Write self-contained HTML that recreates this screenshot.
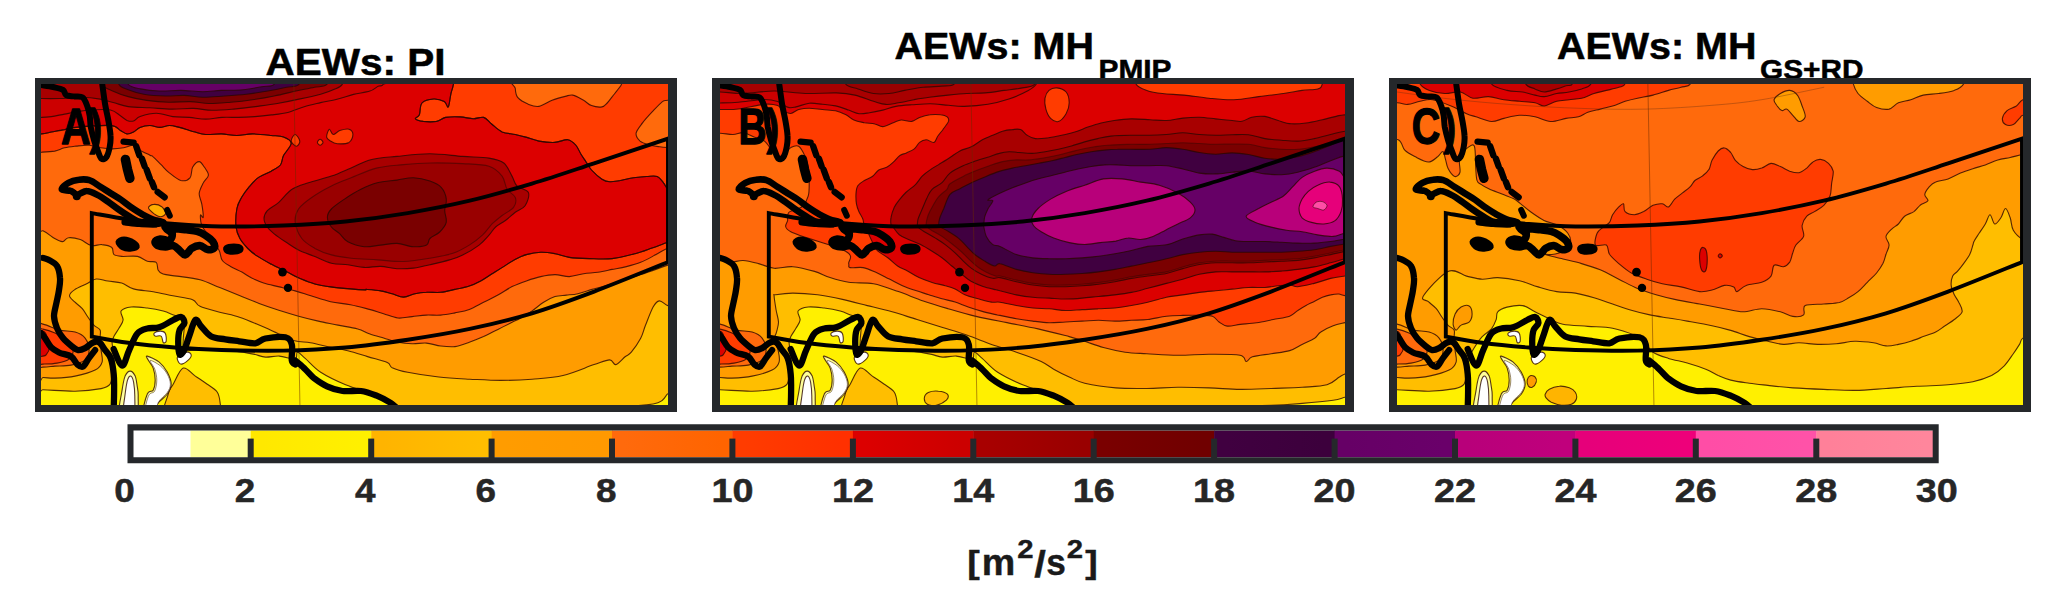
<!DOCTYPE html>
<html><head><meta charset="utf-8"><title>AEWs</title>
<style>
html,body{margin:0;padding:0;background:#fff;}
body{width:2067px;height:609px;overflow:hidden;font-family:"Liberation Sans",sans-serif;}
svg{display:block;}
text{font-family:"Liberation Sans",sans-serif;}
</style></head><body>
<svg width="2067" height="609" viewBox="0 0 2067 609">
<rect width="2067" height="609" fill="#ffffff"/>
<defs>
<clipPath id="clipA"><rect x="41" y="84" width="627" height="321"/></clipPath>
<clipPath id="clipB"><rect x="720" y="84" width="625" height="321"/></clipPath>
<clipPath id="clipC"><rect x="1397" y="84" width="626" height="321"/></clipPath>
</defs>
<text x="265.5" y="74.5" font-size="36" font-weight="bold" fill="#000" stroke="#000" stroke-width="0.5" textLength="180" lengthAdjust="spacingAndGlyphs">AEWs: PI</text>
<text x="894.5" y="59.4" font-size="36" font-weight="bold" fill="#000" stroke="#000" stroke-width="0.5" textLength="199.5" lengthAdjust="spacingAndGlyphs">AEWs: MH</text>
<text x="1098.5" y="78.6" font-size="27" font-weight="bold" fill="#000" stroke="#000" stroke-width="0.5" textLength="73" lengthAdjust="spacingAndGlyphs">PMIP</text>
<text x="1557" y="59.4" font-size="36" font-weight="bold" fill="#000" stroke="#000" stroke-width="0.5" textLength="199.5" lengthAdjust="spacingAndGlyphs">AEWs: MH</text>
<text x="1760" y="78.6" font-size="27" font-weight="bold" fill="#000" stroke="#000" stroke-width="0.5" textLength="103.5" lengthAdjust="spacingAndGlyphs">GS+RD</text>
<g clip-path="url(#clipA)">
<rect x="28" y="70" width="662" height="350" fill="#fff000"/>
<path d="M28 70C138.5 16.7 582.2 16.5 690 70C797.8 123.5 678.5 337.1 674.8 391C671.2 444.9 670.1 391.9 668 393.5C665.9 395 664.9 398.5 662.4 400.3C659.9 402.1 659.3 403 653.1 404C646.9 405 640.1 405.7 625.1 406.2C610.1 406.7 588.9 406.7 563 406.8C537.1 407 495.7 407.1 469.8 407.1C444 407.2 420.7 407.5 407.7 407.1C394.8 406.8 397.4 406.9 392.2 405C387 403 384.4 399 376.7 395.6C368.9 392.3 354.9 388.7 345.6 384.8C336.3 380.9 327.5 376.7 320.7 372.3C314 367.9 309.1 361.7 305.2 358.4C301.3 355 299.2 352 297.5 352.2C295.8 352.3 298 358.5 295 359.1C292 359.8 284.3 356.4 279.4 356.1C274.4 355.8 269.7 357.4 265.4 357.1C261 356.8 258.4 355.1 253.3 354.1C248.3 353.1 241.7 351.8 235.3 351.1C229 350.4 222 350.3 215.3 350.1C208.6 349.9 200.4 350.1 195.3 350.1C190.1 350.1 186.2 351.8 184.2 350.1C182.2 348.4 183.2 344.1 183.2 340.1C183.2 336.1 184.4 329.9 184.2 326.1C184.1 322.2 183.7 318.8 182.2 317C180.7 315.3 178.4 316.6 175.2 315.6C172.1 314.6 167.9 312.3 163.2 311C158.5 309.8 152.5 308.7 147.2 308C141.8 307.4 135.5 306.5 131.2 307C126.8 307.5 122.5 308.9 121.1 311C119.8 313.2 123.5 317.2 123.1 320C122.8 322.9 120.6 325.4 119.1 328.1C117.6 330.7 115.3 333.7 114.1 336.1C113 338.4 112.3 339.7 112.1 342.1C112 344.4 112.8 347.1 113.1 350.1C113.5 353.1 114.3 356.1 114.1 360.1C114 364.1 112.8 370.1 112.1 374.1C111.5 378.1 112 381.7 110.1 384.2C108.3 386.6 106.9 387.4 101.1 388.6C95.3 389.7 84.7 391 75.1 391.2C65.4 391.4 51 390 43 389.8C35 389.5 29.5 443.1 27 389.8C24.5 336.5 -82.5 123.3 28 70Z" fill="#ffbe00" stroke="#2a0600" stroke-width="1.1" stroke-opacity="0.8" stroke-linejoin="round"/>
<path d="M28 70C138.5 18.7 582.2 31 690 70C797.8 109 678.5 264.8 674.8 304C671.2 343.3 670.6 306.1 668 305.6C665.4 305 661.8 300.6 659.3 300.9C656.8 301.2 655.4 303 653.1 307.1C650.8 311.3 647.4 320.6 645.3 325.8C643.3 330.9 643 333.8 640.7 338.2C638.3 342.6 633.9 349.1 631.3 352.2C628.8 355.3 627.7 354.7 625.1 356.8C622.5 358.9 618.4 364.1 615.8 364.6C613.2 365.1 613.2 359.9 609.6 359.9C606 359.9 601.8 362 594.1 364.6C586.3 367.2 573.4 373 563 375.5C552.7 377.9 542.3 378.3 532 379.2C521.6 380 511.2 380.4 500.9 380.4C490.5 380.4 480.2 379.7 469.8 379.2C459.5 378.6 449.1 378.1 438.8 377C428.4 375.9 415.5 373.9 407.7 372.3C400 370.8 395.6 369.3 392.2 367.7C388.8 366 391.4 364.4 387.3 362.5C383.2 360.7 374.1 358.6 367.6 356.6C361 354.6 354.4 352.3 347.8 350.7C341.3 349 334.4 348 328.1 346.7C321.9 345.4 316 343.8 310.4 342.8C304.8 341.8 299.9 342.3 294.6 340.8C289.4 339.3 284.8 336.5 278.8 333.9C272.9 331.3 265.7 327.8 259.1 325.1C252.6 322.3 246 319.3 239.4 317.2C232.9 315 226.3 314 219.7 312.2C213.1 310.4 204.5 308.4 200 306.3C195.5 304.2 197.1 301.5 192.6 299.7C188.1 298 179.5 297.1 172.9 295.8C166.4 294.5 159.8 293 153.2 291.8C146.7 290.7 138.8 290.4 133.5 288.9C128.3 287.4 126 284.3 121.7 283C117.4 281.7 112.2 281.7 107.9 281C103.6 280.4 99.7 278.5 96.1 279C92.5 279.5 89.8 282.2 86.2 284C82.6 285.8 77.2 287.9 74.4 289.9C71.6 291.8 69.5 293.8 69.5 295.8C69.5 297.8 72.3 299.6 74.4 301.7C76.5 303.8 80 306 82.3 308.6C84.6 311.2 86.2 314.7 88.2 317.5C90.2 320.3 92.1 323.2 94.1 325.3C96.1 327.4 99.1 327.9 100.1 330.1C101.1 332.2 99.9 334.7 100.1 338.1C100.3 341.4 100.8 346.1 101.1 350.1C101.4 354.1 103.1 358.8 102.1 362.1C101.1 365.5 99.6 367.8 95.1 370.1C90.6 372.5 81.7 374.8 75.1 376.1C68.4 377.5 60.4 377.9 55 378.1C49.7 378.4 47.7 377.6 43 377.5C38.3 377.4 29.5 428.8 27 377.5C24.5 326.3 -82.5 121.3 28 70Z" fill="#ff9c00" stroke="#2a0600" stroke-width="1.1" stroke-opacity="0.8" stroke-linejoin="round"/>
<path d="M28 70C138.5 43.9 581.7 38 690 70C798.3 102 681.5 229.8 677.9 262.3C674.2 294.8 674 263.1 667.9 265.1C661.7 267.2 650 271.5 640.7 274.6C631.4 277.7 620.2 281.2 612.1 283.7C604 286.2 597.9 287.8 592.1 289.4C586.4 291.1 582.1 292.8 577.9 293.7C573.6 294.7 570.2 294.7 566.4 295.1C562.6 295.6 558.8 295.4 555 296.6C551.2 297.8 547.4 299.9 543.6 302.3C539.8 304.7 536 308.2 532.1 310.9C528.3 313.5 524 316.1 520.7 318C517.4 319.9 516 320.4 512.1 322.3C508.3 324.2 502.6 327 497.9 329.4C493.1 331.8 488.3 334.4 483.6 336.6C478.8 338.7 474 340.6 469.3 342.3C464.5 344 459.8 346 455 346.6C450.2 347.2 445.5 346.6 440.7 346C436 345.4 431.2 343.5 426.4 343.1C421.7 342.8 416.9 343.9 412.1 343.7C407.4 343.6 402.6 343.2 397.9 342.3C393.1 341.3 388.3 339.4 383.6 338C378.8 336.6 373.6 335.2 369.3 333.7C365 332.2 362.9 330.4 357.7 329C352.5 327.5 344.6 326.4 338 325.1C331.4 323.7 324.8 322.6 318.3 321.1C311.7 319.6 305.1 318 298.6 316.2C292 314.4 285.4 312.4 278.8 310.3C272.3 308.1 265.7 305.8 259.1 303.4C252.6 300.9 246 298.1 239.4 295.5C232.9 292.9 226.3 290.2 219.7 287.6C213.1 285 207.1 281.6 200 279.7C192.9 277.8 183 277 176.9 276.1C170.7 275.2 166.2 275.1 163.1 274.1C160 273.1 159.3 272.1 158.2 270.2C157 268.2 158 263.8 156.2 262.3C154.4 260.8 150.4 262.3 147.3 261.3C144.2 260.3 141.7 257.2 137.5 256.4C133.2 255.6 125.6 256.7 121.7 256.4C117.8 256.1 115.5 255.9 113.8 254.4C112.2 252.9 113.8 249.2 111.8 247.5C109.9 245.9 105.4 244.9 102 244.6C98.5 244.2 94.8 246.4 91.2 245.5C87.5 244.7 84.1 240.9 80.3 239.6C76.5 238.3 71.5 237.3 68.5 237.7C65.5 238 64.9 241.4 62.6 241.6C60.3 241.8 58 240.5 54.7 238.6C51.4 236.8 47.5 232.7 42.9 230.8C38.3 228.8 29.6 253.6 27.1 226.8C24.6 200 -82.5 96.1 28 70Z" fill="#ff6a0c" stroke="#2a0600" stroke-width="1.1" stroke-opacity="0.8" stroke-linejoin="round"/>
<path d="M28 70C138.3 56.3 581.7 40.8 690 70C798.3 99.2 681.5 215.5 677.9 245.1C674.2 274.8 671.7 246.3 667.9 248C664 249.7 659.5 252.8 655 255.1C650.5 257.5 645.5 260.4 640.7 262.3C636 264.2 631.2 265.4 626.4 266.6C621.7 267.8 616.9 268.5 612.1 269.4C607.4 270.4 602.6 271.6 597.9 272.3C593.1 273 588.3 273 583.6 273.7C578.8 274.4 574 276.4 569.3 276.6C564.5 276.7 559.8 274.6 555 274.6C550.2 274.6 545.5 275.5 540.7 276.6C536 277.6 531.2 279.2 526.4 280.9C521.7 282.5 516.9 284.2 512.1 286.6C507.4 289 502.6 292.5 497.9 295.1C493.1 297.8 488.3 299.9 483.6 302.3C478.8 304.7 474 307.7 469.3 309.4C464.5 311.2 459.8 311.9 455 312.9C450.2 313.8 445.5 314.8 440.7 315.1C436 315.5 431.2 314.9 426.4 315.1C421.7 315.4 416.9 316.1 412.1 316.6C407.4 317 402.6 318.5 397.9 318C393.1 317.5 388.3 315.1 383.6 313.7C378.8 312.3 374.8 310.9 369.3 309.4C363.7 307.9 356.7 305.9 350.3 304.7C343.8 303.4 337.1 303.2 330.6 301.7C324 300.2 316.8 297.6 310.9 295.8C305 294 300.4 292.3 295.1 290.9C289.8 289.4 284.6 288.2 279.3 286.9C274.1 285.6 268.2 284.5 263.6 283C259 281.5 255.4 279.9 251.7 278.1C248.1 276.2 245.5 274.1 241.9 272.1C238.3 270.2 233.4 268.2 230.1 266.2C226.8 264.3 224 262.9 222.2 260.3C220.4 257.7 220.7 253.4 219.2 250.5C217.8 247.5 215.5 245.5 213.3 242.6C211.2 239.6 208.4 235.7 206.4 232.7C204.5 229.8 202.5 227.8 201.5 224.9C200.5 221.9 200.2 216.3 200.5 215C200.8 213.7 202.9 219.1 203.2 217.3C203.4 215.4 202.5 208.1 201.8 204.1C201.2 200.2 199 197.1 199.2 193.6C199.4 190.1 201.6 186.2 203.2 183.1C204.7 180 208.2 177.8 208.4 175.2C208.6 172.6 206 169.6 204.5 167.3C202.9 165.1 201.2 161.6 199.2 161.6C197.2 161.6 194.2 164.6 192.6 167.3C191.1 170 192 175.7 190 177.8C188 180 184.3 181.3 180.8 180.5C177.3 179.6 172.3 175.2 169 172.6C165.7 170 163.7 167.3 161.1 164.7C158.5 162.1 155.1 158.4 153.2 156.8C151.4 155.2 152.1 156.3 149.9 155.2C147.8 154.1 142.8 151.9 140.1 150.2C137.4 148.6 136.3 145.7 133.5 145.3C130.8 144.9 127.2 147.2 123.7 147.8C120.1 148.4 116 148.9 112.2 148.9C108.3 148.9 104.5 148.4 100.7 147.8C96.9 147.2 93.3 145.6 89.2 145.3C85.1 145 80.2 145.7 76.1 146.1C71.9 146.6 68.1 147 64.6 147.8C61 148.6 58.5 150.3 54.7 151.1C50.9 151.8 45.9 152 41.6 152.2C37.2 152.4 30.7 165.9 28.4 152.2C26.2 138.5 -82.3 83.7 28 70Z" fill="#ff3c00" stroke="#2a0600" stroke-width="1.1" stroke-opacity="0.8" stroke-linejoin="round"/>
<path d="M28 70C99.4 59.3 383.4 67.8 454.3 70.1C525.2 72.4 454.1 79.8 453.5 83.8C453 87.7 451.8 89.9 450.9 93.8C450 97.6 449.4 105.6 448.3 106.9C447.2 108.2 446.7 103 444.3 101.6C441.9 100.3 437.5 98.8 433.8 99C430.1 99.2 424.4 100.3 422 103C419.6 105.6 420.5 112.2 419.4 114.8C418.3 117.4 414.8 117.6 415.4 118.7C416.1 119.8 419.8 120.9 423.3 121.4C426.8 121.8 432.7 122 436.5 121.4C440.2 120.7 441.7 118.2 445.6 117.4C449.6 116.7 455.5 116.7 460.1 116.9C464.7 117.1 469.3 118.6 473.2 118.7C477.2 118.8 480.7 116.5 483.7 117.4C486.8 118.3 488.6 121.6 491.6 124C494.7 126.4 498.2 130.1 502.1 131.9C506.1 133.6 511.3 133.6 515.3 134.5C519.2 135.4 521.8 136 525.8 137.1C529.7 138.2 534.1 140.2 538.9 141.1C543.7 141.9 549.9 142.6 554.7 142.4C559.5 142.2 564.3 139.3 567.8 139.7C571.3 140.2 573.5 142.6 575.7 145C577.9 147.4 579.2 151.3 581 154.2C582.7 157 584.5 159.5 586.2 162.1C588 164.7 588.8 167.1 591.5 170C594.1 172.8 598.9 177.2 602 179.2C605 181.1 606.8 181.6 609.9 181.8C612.9 182 616.4 181.1 620.4 180.5C624.3 179.8 629.1 178.5 633.5 177.8C637.9 177.2 642.7 176.7 646.6 176.5C650.6 176.3 654.3 175.4 657.2 176.5C660 177.6 662 181.1 663.7 183.1C665.5 185.1 665.3 187 667.7 188.4C670.1 189.7 676.5 182.5 678.2 191C679.9 199.5 679.6 230.9 677.9 239.4C676.1 248 672.1 240.9 667.9 242.3C663.6 243.7 657.6 246.1 652.1 248C646.7 249.9 641.7 252 635 253.7C628.3 255.5 619.8 257.8 612.1 258.6C604.5 259.4 596.4 258.8 589.3 258.6C582.1 258.4 575 258.2 569.3 257.4C563.6 256.6 559.8 254.6 555 253.7C550.2 252.9 545.5 252.1 540.7 252.3C536 252.4 530.7 253.4 526.4 254.6C522.1 255.8 518.8 257.4 515 259.4C511.2 261.4 507.4 264.2 503.6 266.6C499.8 269 496 271.3 492.1 273.7C488.3 276.1 484.5 278.8 480.7 280.9C476.9 282.9 473.6 284.6 469.3 286C465 287.4 459.8 288.4 455 289.4C450.2 290.5 445.5 291.8 440.7 292.3C436 292.8 430.7 292 426.4 292.3C422.1 292.5 418.8 292.9 415 293.7C411.2 294.5 407.4 297.1 403.6 297.1C399.8 297.1 396 294.8 392.1 293.7C388.3 292.7 385 291.6 380.7 290.9C376.4 290.1 369 289.6 366.4 289.4C363.8 289.3 367.7 290 365 289.9C362.4 289.8 356 289.4 350.3 288.9C344.5 288.4 336.5 287.7 330.6 286.9C324.7 286.1 320.1 285.4 314.8 284C309.5 282.5 303.6 280 299 278.1C294.4 276.1 291.8 274.4 287.2 272.1C282.6 269.8 276.4 266.9 271.5 264.3C266.5 261.6 261.6 259 257.7 256.4C253.7 253.8 250.8 251.5 247.8 248.5C244.9 245.5 241.9 242.3 239.9 238.6C238 235 236.5 231.9 236 226.8C235.5 221.8 236 213.3 236.9 208.5C237.8 203.6 239.5 201.2 241.5 197.6C243.6 194 246.5 190.1 249.3 186.7C252.2 183.3 255 180 258.6 177.4C262.3 174.8 267.4 173.2 271.1 171.2C274.7 169.1 278.3 167.6 280.4 165C282.4 162.4 281.7 159.3 283.5 155.6C285.3 152 291.2 146.3 291.2 143.2C291.2 140.1 286.8 138.3 283.5 137C280.1 135.7 276.2 136 271.1 135.5C265.9 134.9 258.1 133.9 252.4 133.9C246.7 133.9 242.1 135.5 236.9 135.5C231.7 135.5 226.5 134.1 221.4 133.9C216.2 133.8 210.2 134.8 205.8 134.5C201.4 134.2 197.7 132.7 195 132C192.2 131.4 192 131.3 189.4 130.5C186.8 129.7 182.7 128.2 179.4 127.4C176.1 126.6 172.8 125.5 169.5 125.5C166.2 125.5 163.1 127.4 159.9 127.4C156.6 127.4 153.2 125.5 149.9 125.5C146.6 125.5 142.7 126.3 140 127.4C137.2 128.5 135.6 131 133.5 132C131.3 133.1 129.1 134.2 126.9 133.9C124.8 133.6 123.2 131.9 120.4 130.5C117.7 129.1 117.9 126 110.5 125.5C103.1 125 83.7 126.7 76 127.4C68.3 128.1 68.6 128.8 64.5 129.6C60.4 130.3 55.3 131.3 51.5 132C47.6 132.8 45.8 133.5 41.5 133.9C37.2 134.3 27.9 145.2 25.7 134.5C23.4 123.9 -43.4 80.7 28 70Z" fill="#dc0000" stroke="#2a0600" stroke-width="1.1" stroke-opacity="0.8" stroke-linejoin="round"/>
<path d="M28 70C-31.4 77.7 26.2 109.5 28.4 117.4C30.7 125.3 37.7 117.5 41.6 117.4C45.4 117.3 47.6 117.1 51.4 116.6C55.3 116 60.2 114.9 64.6 114.1C68.9 113.3 73.6 112.3 77.7 111.7C81.8 111 83.7 110.3 89.2 110C94.7 109.7 105.3 109.1 110.5 110C115.7 111 117.6 114 120.4 115.8C123.1 117.5 124.8 119.5 127 120.4C129.1 121.2 131.3 121.7 133.5 121C135.7 120.4 136.3 117.9 140.1 116.6C143.9 115.3 151 113.3 156.4 113.3C161.9 113.3 167.4 115.9 172.8 116.6C178.3 117.3 183.8 117 189.3 117.4C194.7 117.8 200.2 119.1 205.7 119.1C211.2 119.1 216.6 117.7 222.1 117.4C227.6 117.1 233 117.5 238.5 117.4C244 117.3 249.5 117 254.9 116.6C260.4 116.2 265.9 115.6 271.4 114.9C276.8 114.3 282.3 113.9 287.8 112.5C293.3 111.1 298.7 108.4 304.2 106.7C309.7 105.1 315.2 103.9 320.6 102.6C326.1 101.4 331.6 100.7 337 99.3C342.5 98 348 95.8 353.5 94.4C358.9 93.1 365.8 92.5 369.9 91.1C374 89.8 375.9 87.3 378.1 86.2C380.3 85.1 381.9 87 383 84.6C384.1 82.1 443.8 73.9 384.7 71.4C325.5 69 87.4 62.3 28 70Z" fill="#cc0000" stroke="#2a0600" stroke-width="1.1" stroke-opacity="0.8" stroke-linejoin="round"/>
<path d="M326.6 137.1C326.4 135.1 328.2 129.7 329.3 129.2C330.4 128.8 331.5 134.3 333.2 134.5C335 134.7 337.2 131.4 339.8 130.5C342.4 129.7 346.8 128.6 349 129.2C351.2 129.9 352.9 132.3 352.9 134.5C352.9 136.7 351.6 140.8 349 142.4C346.4 143.9 340.2 143.9 337.2 143.7C334.1 143.5 332.3 142.2 330.6 141.1C328.8 140 326.9 139.1 326.6 137.1Z" fill="#ff3c00" stroke="#2a0600" stroke-width="1.1" stroke-opacity="0.8" stroke-linejoin="round"/>
<path d="M291.2 141.1C291 139.1 293.7 134.5 295.1 134.5C296.6 134.5 299.6 139.1 299.8 141.1C300.1 143 297.9 146.3 296.4 146.3C295 146.3 291.4 143 291.2 141.1Z" fill="#ff3c00" stroke="#2a0600" stroke-width="1.1" stroke-opacity="0.8" stroke-linejoin="round"/>
<path d="M317.4 142.4C317.4 141.4 319.2 139.2 320.1 139.2C321 139.2 323 141.4 323 142.4C323 143.4 321 145.3 320.1 145.3C319.2 145.3 317.4 143.4 317.4 142.4Z" fill="#ff3c00" stroke="#2a0600" stroke-width="1.1" stroke-opacity="0.8" stroke-linejoin="round"/>
<path d="M515.8 72.7C497.9 75.4 514.9 84.3 515.3 88.5C515.6 92.7 515.7 95.1 517.9 97.7C520.1 100.3 524.9 102.8 528.4 104.3C531.9 105.7 535 107 538.9 106.4C542.9 105.7 547.7 102 552.1 100.3C556.4 98.7 561.7 97.3 565.2 96.4C568.7 95.5 570 94.4 573.1 95.1C576.1 95.7 580.5 98.6 583.6 100.3C586.7 102.1 588.4 104.5 591.5 105.6C594.5 106.7 599.4 107.3 602 106.9C604.6 106.5 605.5 104.7 607.2 103C609 101.2 610.7 98.6 612.5 96.4C614.2 94.2 616.2 91.9 617.7 89.8C619.3 87.7 620.9 86.6 621.7 83.8C622.5 80.9 640.1 74.6 622.5 72.7C604.8 70.9 533.7 70.1 515.8 72.7Z" fill="#ff6a0c" stroke="#2a0600" stroke-width="1.1" stroke-opacity="0.8" stroke-linejoin="round"/>
<path d="M678.2 99C676.4 91 670.3 99.9 667.7 100.3C665 100.8 665 99.7 662.4 101.6C659.8 103.6 655.2 108.7 651.9 112.2C648.6 115.7 645.3 119.2 642.7 122.7C640.1 126.2 636.6 130.1 636.1 133.2C635.7 136.2 637.9 139.1 640.1 141.1C642.3 143 646 144 649.3 145C652.6 146 656.7 146.4 659.8 146.8C662.8 147.3 664.6 147.4 667.7 147.6C670.7 147.9 676.4 156.5 678.2 148.4C679.9 140.3 679.9 107 678.2 99Z" fill="#ff6a0c" stroke="#2a0600" stroke-width="1.1" stroke-opacity="0.8" stroke-linejoin="round"/>
<path d="M454.3 70.1C454.2 72.4 454.1 79.8 453.5 83.8C453 87.7 451.8 89.9 450.9 93.8C450 97.6 449.4 105.6 448.3 106.9C447.2 108.2 446.7 103 444.3 101.6C441.9 100.3 437.5 98.8 433.8 99C430.1 99.2 424.4 100.3 422 103C419.6 105.6 420.5 112.2 419.4 114.8C418.3 117.4 414.8 117.6 415.4 118.7C416.1 119.8 419.8 120.9 423.3 121.4C426.8 121.8 432.7 122 436.5 121.4C440.2 120.7 441.7 118.2 445.6 117.4C449.6 116.7 455.5 116.7 460.1 116.9C464.7 117.1 469.3 118.6 473.2 118.7C477.2 118.8 480.7 116.5 483.7 117.4C486.8 118.3 488.6 121.6 491.6 124C494.7 126.4 498.2 130.1 502.1 131.9C506.1 133.6 511.3 133.6 515.3 134.5C519.2 135.4 521.8 136 525.8 137.1C529.7 138.2 534.1 140.2 538.9 141.1C543.7 141.9 549.9 142.6 554.7 142.4C559.5 142.2 564.3 139.3 567.8 139.7C571.3 140.2 573.5 142.6 575.7 145C577.9 147.4 579.2 151.3 581 154.2C582.7 157 584.5 159.5 586.2 162.1C588 164.7 588.8 167.1 591.5 170C594.1 172.8 598.9 177.2 602 179.2C605 181.1 606.8 181.6 609.9 181.8C612.9 182 616.4 181.1 620.4 180.5C624.3 179.8 629.1 178.5 633.5 177.8C637.9 177.2 642.7 176.7 646.6 176.5C650.6 176.3 654.3 175.4 657.2 176.5C660 177.6 662 181.1 663.7 183.1C665.5 185.1 665.3 187 667.7 188.4C670.1 189.7 676.5 182.5 678.2 191C679.9 199.5 679.6 230.9 677.9 239.4C676.1 248 672.1 240.9 667.9 242.3C663.6 243.7 657.6 246.1 652.1 248C646.7 249.9 641.7 252 635 253.7C628.3 255.5 619.8 257.8 612.1 258.6C604.5 259.4 596.4 258.8 589.3 258.6C582.1 258.4 575 258.2 569.3 257.4C563.6 256.6 559.8 254.6 555 253.7C550.2 252.9 545.5 252.1 540.7 252.3C536 252.4 530.7 253.4 526.4 254.6C522.1 255.8 518.8 257.4 515 259.4C511.2 261.4 507.4 264.2 503.6 266.6C499.8 269 496 271.3 492.1 273.7C488.3 276.1 484.5 278.8 480.7 280.9C476.9 282.9 473.6 284.6 469.3 286C465 287.4 459.8 288.4 455 289.4C450.2 290.5 445.5 291.8 440.7 292.3C436 292.8 430.7 292 426.4 292.3C422.1 292.5 418.8 292.9 415 293.7C411.2 294.5 407.4 297.1 403.6 297.1C399.8 297.1 396 294.8 392.1 293.7C388.3 292.7 385 291.6 380.7 290.9C376.4 290.1 369 289.6 366.4 289.4C363.8 289.3 367.7 290 365 289.9C362.4 289.8 356 289.4 350.3 288.9C344.5 288.4 336.5 287.7 330.6 286.9C324.7 286.1 320.1 285.4 314.8 284C309.5 282.5 303.6 280 299 278.1C294.4 276.1 291.8 274.4 287.2 272.1C282.6 269.8 276.4 266.9 271.5 264.3C266.5 261.6 261.6 259 257.7 256.4C253.7 253.8 250.8 251.5 247.8 248.5C244.9 245.5 241.9 242.3 239.9 238.6C238 235 236.5 231.9 236 226.8C235.5 221.8 236 213.3 236.9 208.5C237.8 203.6 239.5 201.2 241.5 197.6C243.6 194 246.5 190.1 249.3 186.7C252.2 183.3 255 180 258.6 177.4C262.3 174.8 267.4 173.2 271.1 171.2C274.7 169.1 278.3 167.6 280.4 165C282.4 162.4 281.7 159.3 283.5 155.6C285.3 152 291.2 146.3 291.2 143.2C291.2 140.1 286.8 138.3 283.5 137C280.1 135.7 276.2 136 271.1 135.5C265.9 134.9 258.1 133.9 252.4 133.9C246.7 133.9 242.1 135.5 236.9 135.5C231.7 135.5 226.5 134.1 221.4 133.9C216.2 133.8 210.2 134.8 205.8 134.5C201.4 134.2 197.7 132.7 195 132C192.2 131.4 192 131.3 189.4 130.5C186.8 129.7 182.7 128.2 179.4 127.4C176.1 126.6 172.8 125.5 169.5 125.5C166.2 125.5 163.1 127.4 159.9 127.4C156.6 127.4 153.2 125.5 149.9 125.5C146.6 125.5 142.7 126.3 140 127.4C137.2 128.5 135.6 131 133.5 132C131.3 133.1 129.1 134.2 126.9 133.9C124.8 133.6 123.2 131.9 120.4 130.5C117.7 129.1 117.9 126 110.5 125.5C103.1 125 83.7 126.7 76 127.4C68.3 128.1 68.6 128.8 64.5 129.6C60.4 130.3 55.3 131.3 51.5 132C47.6 132.8 45.8 133.5 41.5 133.9C37.2 134.3 28.3 134.4 25.7 134.5" fill="none" stroke="#2a0600" stroke-width="1.1" stroke-opacity="0.8" stroke-linejoin="round" stroke-linecap="round"/>
<path d="M25.7 68.7C-27.4 73.4 23 92.3 25.7 97.3C28.4 102.2 36.1 98.3 41.8 98.5C47.5 98.7 53.2 98.7 59.8 98.5C66.5 98.3 74.9 97.2 81.6 97.3C88.3 97.4 94.8 98.2 100.2 99.1C105.7 100.1 109.5 101.6 114.2 102.8C118.9 104.1 122.2 105.7 128.2 106.6C134.1 107.4 142.7 107.4 149.9 107.8C157.2 108.2 164.4 109 171.7 109.1C178.9 109.2 186.7 108.2 193.4 108.4C200.1 108.6 205.3 110.2 212 110.3C218.8 110.4 226.5 109.7 233.8 109.1C241 108.4 248.3 107.5 255.5 106.6C262.8 105.6 270 104.7 277.3 103.5C284.5 102.2 291.8 100.7 299 99.1C306.3 97.6 315.1 95.7 320.7 94.2C326.4 92.6 329.6 91.5 333.2 89.8C336.8 88.1 340.7 87.4 342.5 83.9C344.3 80.4 396.8 71.2 344 68.7C291.2 66.1 78.7 63.9 25.7 68.7Z" fill="#a80000" stroke="#2a0600" stroke-width="1.1" stroke-opacity="0.8" stroke-linejoin="round"/>
<path d="M264 218.8C264 216.1 264.9 213.3 267.3 210.6C269.8 207.9 274.7 206 278.8 202.4C282.9 198.8 287 192.5 292 189.3C296.9 186 301.8 184.9 308.4 182.7C314.9 180.5 324.2 178.6 331.4 176.1C338.5 173.7 344.5 170.7 351.1 167.9C357.6 165.2 363.1 161.6 370.8 159.7C378.4 157.8 387.2 157.4 397 156.4C406.9 155.4 418.9 153.8 429.9 153.8C440.8 153.8 452.9 155.7 462.7 156.4C472.6 157.1 482.2 157 489 158.1C495.8 159.2 499.9 160 503.8 163C507.6 166 509.8 172.3 512 176.1C514.2 180 514.2 183.2 516.9 186C519.6 188.7 527 189.3 528.4 192.5C529.8 195.8 527.3 202.4 525.1 205.7C522.9 209 518.6 209.8 515.3 212.2C512 214.7 508.7 218 505.4 220.5C502.1 222.9 498.3 224.6 495.6 227C492.8 229.5 491.7 232.2 489 235.2C486.3 238.2 483.5 241.8 479.1 245.1C474.8 248.4 467.7 252.5 462.7 254.9C457.8 257.4 455.1 258.2 449.6 259.9C444.1 261.5 435.9 263.4 429.9 264.8C423.9 266.2 418.9 267.4 413.5 268.1C408 268.7 402.5 269 397 268.7C391.6 268.5 386.1 266.7 380.6 266.4C375.2 266.2 369.7 267.7 364.2 267.4C358.7 267.1 353.3 265.5 347.8 264.8C342.3 264.1 336.8 264.5 331.4 263.2C325.9 261.8 320.4 258.8 314.9 256.6C309.5 254.4 303.4 252.5 298.5 250C293.6 247.6 289.5 244.5 285.4 241.8C281.3 239.1 276.9 236.1 273.9 233.6C270.9 231.1 269 229.5 267.3 227C265.7 224.6 264 221.6 264 218.8Z" fill="#a80000" stroke="#2a0600" stroke-width="1.1" stroke-opacity="0.8" stroke-linejoin="round"/>
<path d="M295.2 222.1C294.7 217.2 295.8 213.1 298.5 209C301.3 204.9 306.2 201.3 311.7 197.5C317.1 193.6 324.8 189.3 331.4 186C337.9 182.7 343.4 180.8 351.1 177.8C358.7 174.8 368.6 170.1 377.3 167.9C386.1 165.7 394.9 165.5 403.6 164.6C412.4 163.8 420 163.2 429.9 163C439.7 162.8 452.9 163.1 462.7 163.6C472.6 164.2 482.4 164.2 489 166.3C495.6 168.4 499.1 172.3 502.1 176.1C505.1 180 504.9 185.7 507.1 189.3C509.3 192.8 514.2 194.5 515.3 197.5C516.4 200.5 515.8 204.3 513.6 207.3C511.4 210.3 505.7 212.8 502.1 215.5C498.6 218.3 495.6 220.5 492.3 223.7C489 227 486.3 231.7 482.4 235.2C478.6 238.8 474.2 242.1 469.3 245.1C464.4 248.1 459.4 251.1 452.9 253.3C446.3 255.5 438.1 256.9 429.9 258.2C421.7 259.6 412.4 261.2 403.6 261.5C394.9 261.8 386.1 260.4 377.3 259.9C368.6 259.3 358.7 259 351.1 258.2C343.4 257.4 337.4 256.6 331.4 254.9C325.3 253.3 319.9 251.1 314.9 248.4C310 245.6 305.1 242.9 301.8 238.5C298.5 234.1 295.8 227 295.2 222.1Z" fill="#990000" stroke="#2a0600" stroke-width="1.1" stroke-opacity="0.5" stroke-linejoin="round"/>
<path d="M101.8 68.7C64 71.3 100 80.5 101.8 84.2C103.6 87.9 108.2 89 112.6 91C117 93.1 122.5 95.1 128.2 96.6C133.9 98.2 140.1 99.4 146.8 100.4C153.5 101.3 161.3 102 168.6 102.2C175.8 102.4 183.6 101.4 190.3 101.6C197 101.8 202.2 103.4 208.9 103.5C215.7 103.6 223.4 102.8 230.7 102.2C237.9 101.6 245.2 100.8 252.4 99.7C259.7 98.7 266.9 97.5 274.2 96C281.4 94.6 289.2 92.5 295.9 91C302.6 89.6 309.4 88.5 314.5 87.3C319.7 86.2 324.6 87.3 327 84.2C329.3 81.1 366 71.3 328.5 68.7C291 66.1 139.6 66.1 101.8 68.7Z" fill="#7a0000" stroke="#2a0600" stroke-width="1.1" stroke-opacity="0.8" stroke-linejoin="round"/>
<path d="M327.4 217.2C327.4 214.2 328.5 212 331.4 209C334.2 206 339.6 202.4 344.5 199.1C349.4 195.8 355.4 192 360.9 189.3C366.4 186.5 371.3 184.2 377.3 182.7C383.4 181.2 391 180.9 397 180.1C403.1 179.2 408 177.6 413.5 177.8C418.9 177.9 425.2 179.4 429.9 181.1C434.5 182.7 438.6 184.6 441.4 187.6C444.1 190.6 445.8 195.3 446.3 199.1C446.9 202.9 444.7 206.8 444.7 210.6C444.7 214.4 447.1 218.5 446.3 222.1C445.5 225.7 442.5 229.2 439.7 232C437 234.7 432.1 236.3 429.9 238.5C427.7 240.7 429.3 243.7 426.6 245.1C423.9 246.5 418.4 247 413.5 246.7C408.5 246.5 402.5 243.7 397 243.4C391.6 243.2 386.1 244.5 380.6 245.1C375.2 245.6 369.7 247.3 364.2 246.7C358.7 246.2 351.9 244 347.8 241.8C343.7 239.6 342.3 236.1 339.6 233.6C336.8 231.1 333.4 229.8 331.4 227C329.3 224.3 327.4 220.2 327.4 217.2Z" fill="#7a0000" stroke="#2a0600" stroke-width="1.1" stroke-opacity="0.8" stroke-linejoin="round"/>
<path d="M118.2 68.7C88.1 71.3 117.2 80.7 118.9 84.2C120.5 87.7 124 88.1 128.2 89.8C132.3 91.5 137.5 93.1 143.7 94.2C149.9 95.2 158.7 95.8 165.5 96C172.2 96.2 177.9 95.2 184.1 95.4C190.3 95.6 196 97.2 202.7 97.3C209.5 97.4 217.2 96.5 224.5 96C231.7 95.5 239 95 246.2 94.2C253.5 93.3 261.2 92.2 267.9 91C274.7 89.9 281.4 88.5 286.6 87.3C291.8 86.2 296.8 87.3 299 84.2C301.2 81.1 329.8 71.3 299.6 68.7C269.5 66.1 148.4 66.1 118.2 68.7Z" fill="#400040" stroke="#2a0600" stroke-width="1.1" stroke-opacity="0.8" stroke-linejoin="round"/>
<path d="M127.6 68.7C103.1 71.3 126 80.8 128.2 84.2C130.4 87.6 135.4 87.7 140.6 88.9C145.8 90 152.5 90.8 159.2 91C166 91.3 173.7 90.3 181 90.4C188.2 90.5 196 91.7 202.7 91.7C209.5 91.7 214.6 90.7 221.4 90.4C228.1 90.1 236.4 90.4 243.1 89.8C249.8 89.2 256.6 87.6 261.7 86.7C266.9 85.8 272 87.2 274.2 84.2C276.3 81.2 299.2 71.3 274.8 68.7C250.3 66.1 152 66.1 127.6 68.7Z" fill="#660066" stroke="#2a0600" stroke-width="1.1" stroke-opacity="0.8" stroke-linejoin="round"/>
<path d="M27 323.1C29.7 315.9 37.7 322.9 43 324.1C48.4 325.2 53.7 328.7 59 330.1C64.4 331.4 70.7 330.7 75.1 332.1C79.4 333.4 82.7 335.1 85.1 338.1C87.4 341.1 89.1 346.4 89.1 350.1C89.1 353.8 88.1 357.6 85.1 360.1C82.1 362.6 76.1 364.1 71.1 365.1C66 366.1 59.7 365.8 55 366.1C50.4 366.5 47.7 367 43 367.1C38.3 367.3 29.7 374.5 27 367.1C24.3 359.8 24.3 330.2 27 323.1Z" fill="#ff6a0c" stroke="#2a0600" stroke-width="1.1" stroke-opacity="0.8" stroke-linejoin="round"/>
<path d="M27 328.1C29.7 322.2 38.3 328.2 43 329.1C47.7 329.9 51 331.2 55 333.1C59 334.9 64 337.2 67.1 340.1C70.1 342.9 72.7 346.9 73.1 350.1C73.4 353.3 71.7 356.9 69.1 359.1C66.4 361.3 61.4 362.3 57 363.1C52.7 364 48 364 43 364.1C38 364.3 29.7 370.1 27 364.1C24.3 358.1 24.3 333.9 27 328.1Z" fill="#ff3c00" stroke="#2a0600" stroke-width="1.1" stroke-opacity="0.8" stroke-linejoin="round"/>
<path d="M27 330.1C29.7 325.9 39.6 329.7 43 331.1C46.4 332.4 46.4 335.2 47.4 338.1C48.5 340.9 49.6 345.4 49.4 348.1C49.3 350.8 47.7 352.8 46.6 354.1C45.6 355.4 46.3 355.8 43 356.1C39.7 356.4 29.7 360.4 27 356.1C24.3 351.8 24.3 334.2 27 330.1Z" fill="#dc0000" stroke="#2a0600" stroke-width="1.1" stroke-opacity="0.8" stroke-linejoin="round"/>
<path d="M173.2 384.2C175.7 379.8 179.6 369.5 183.2 368.1C186.9 366.8 191.2 373.5 195.3 376.1C199.3 378.8 203.6 381.5 207.3 384.2C210.9 386.8 215.1 388.8 217.3 392.2C219.5 395.5 219.8 399.8 220.3 404.2C220.8 408.5 229.1 415.9 220.3 418.2C211.4 420.5 175.9 422.2 167.2 418.2C158.5 414.2 167.2 399.8 168.2 394.2C169.2 388.5 170.7 388.5 173.2 384.2Z" fill="#ffbe00" stroke="#2a0600" stroke-width="1.1" stroke-opacity="0.8" stroke-linejoin="round"/>
<path d="M119.1 418.2C116.8 413.5 121.1 397.2 122.1 390.2C123.1 383.1 123.8 379.3 125.1 376.1C126.5 373 128.5 371.1 130.2 371.1C131.8 371.1 134 373.6 135.2 376.1C136.3 378.6 136.7 382.8 137.2 386.2C137.7 389.5 138.3 390.8 138.2 396.2C138 401.5 139.3 414.5 136.2 418.2C133 421.9 121.5 422.9 119.1 418.2Z" fill="#ffff99" stroke="#2a0600" stroke-width="1.1" stroke-opacity="0.8" stroke-linejoin="round"/>
<path d="M123.1 418.2C121.7 414.2 124.4 400.5 125.1 394.2C125.9 387.8 126.6 383.1 127.5 380.1C128.5 377.1 129.8 375.8 130.8 376.1C131.8 376.5 132.9 378.8 133.6 382.1C134.2 385.5 134.8 390.2 134.8 396.2C134.8 402.2 135.5 414.5 133.6 418.2C131.6 421.9 124.5 422.2 123.1 418.2Z" fill="#ffffff" stroke="#2a0600" stroke-width="1.1" stroke-opacity="0.8" stroke-linejoin="round"/>
<path d="M147.2 356.1C149 356.4 155.9 359.4 159.2 362.1C162.5 364.8 165.2 368.5 167.2 372.1C169.2 375.8 171.2 380.5 171.2 384.2C171.2 387.8 169.5 390.8 167.2 394.2C164.9 397.5 159.5 400.2 157.2 404.2C154.9 408.2 155.7 415.9 153.2 418.2C150.7 420.5 143.2 422.2 142.2 418.2C141.2 414.2 145.3 398.8 147.2 394.2C149 389.5 151.9 392.5 153.2 390.2C154.5 387.8 155.2 383.8 155.2 380.1C155.2 376.5 154.4 371.5 153.2 368.1C152 364.8 149.2 362.1 148.2 360.1C147.2 358.1 145.3 355.8 147.2 356.1Z" fill="#ffff99" stroke="#2a0600" stroke-width="1.1" stroke-opacity="0.8" stroke-linejoin="round"/>
<path d="M150.2 360.5C151.1 359.9 157.4 363.5 160.2 365.7C163 368 165.5 371.1 167.2 374.1C168.9 377.2 170.4 381.1 170.4 384.2C170.4 387.2 169.2 389.5 167.2 392.6C165.2 395.6 160.3 398.3 158.2 402.6C156.1 406.9 157.1 415.6 154.8 418.2C152.5 420.8 145.2 421.9 144.2 418.2C143.1 414.5 146.6 400.7 148.4 396.2C150.1 391.7 153.2 393.8 154.6 391.2C156 388.5 156.8 383.8 156.8 380.1C156.8 376.5 155.9 372.4 154.8 369.1C153.7 365.9 149.3 361.1 150.2 360.5Z" fill="#ffffff" stroke="#2a0600" stroke-width="0.6" stroke-opacity="0.8" stroke-linejoin="round"/>
<path d="M178.2 356.1C179.8 354.8 185.1 352.3 187.2 352.1C189.4 351.9 191.1 353.8 191.2 355.1C191.4 356.4 189.9 358.6 188.2 360.1C186.6 361.6 183 364.1 181.2 364.1C179.5 364.1 178.1 361.4 177.6 360.1C177.1 358.8 176.6 357.4 178.2 356.1Z" fill="#ffffff" stroke="#2a0600" stroke-width="1.1" stroke-opacity="0.8" stroke-linejoin="round"/>
<path d="M154.2 333.1C155 332.2 158.4 331.1 160.2 331.1C162 331.1 164.2 331.4 165.2 333.1C166.2 334.7 166.5 339.5 166.2 341.1C165.9 342.7 164 343.3 163.2 342.5C162.4 341.6 162.5 337.1 161.2 336.1C159.9 335 156.4 336.6 155.2 336.1C154 335.6 153.4 333.9 154.2 333.1Z" fill="#ffffff" stroke="#2a0600" stroke-width="1.1" stroke-opacity="0.8" stroke-linejoin="round"/>
<path d="M148.5 207.8C148.5 206.2 151.6 204.5 153.8 204.4C156 204.2 159.7 205.2 161.7 206.7C163.6 208.3 165.8 211.9 165.6 213.6C165.4 215.2 162.3 216.7 160.4 216.7C158.4 216.7 155.8 215 153.8 213.6C151.8 212.1 148.5 209.3 148.5 207.8Z" fill="#ffae00" stroke="#2a0600" stroke-width="1.1" stroke-opacity="0.8" stroke-linejoin="round"/>
<line x1="293.8" y1="80" x2="300" y2="408" stroke="#6a2a00" stroke-width="1" stroke-opacity="0.5"/>
<path d="M91.8 213.1C97.9 214.1 114.4 217.5 128.2 219.3C142 221.1 159.2 222.8 174.8 224C190.3 225.2 203.2 226.2 221.4 226.5C239.5 226.7 262.8 226.4 283.5 225.5C304.2 224.7 324.9 223.6 345.6 221.5C366.3 219.4 387 216.6 407.7 213.1C428.4 209.6 449.1 205.6 469.8 200.7C490.5 195.8 511.2 189.8 532 183.6C552.7 177.4 571.4 170.9 594.1 163.4C616.7 155.9 655.7 142.7 668 138.6 L668 262.1 L668 262.1C655.7 267 616.7 283 594.1 291.6C571.4 300.1 552.7 307.1 532 313.3C511.2 319.5 490.5 324.5 469.8 328.9C449.1 333.3 428.4 336.6 407.7 339.7C387 342.8 366.3 345.7 345.6 347.5C324.9 349.3 304.2 350.2 283.5 350.6C262.8 351 239.5 350.5 221.4 350C203.2 349.5 190.3 348.7 174.8 347.5C159.2 346.3 142 344.7 128.2 342.8C114.4 341 97.9 337.7 91.8 336.6Z" fill="none" stroke="#000" stroke-width="3.9" stroke-linejoin="miter"/>
<path d="M39.9 84.9C42.1 85.3 49.2 86.2 53.1 87C56.9 87.9 60.7 88.5 62.9 89.8C65.1 91.2 64.3 94.1 66.2 95.2C68.1 96.3 71.7 96 74.4 96.4C77.1 96.7 80.5 95.8 82.6 97.4C84.8 99 86 102.8 87.2 105.9C88.4 109 89.1 112.2 89.7 115.8C90.3 119.3 90.1 123.2 90.8 127.3C91.6 131.4 92.9 136.3 94.1 140.4C95.3 144.5 97 148.8 98.2 151.9C99.4 155 100.1 157.9 101.5 158.8C102.9 159.7 105.1 159.1 106.4 157.1C107.8 155.2 109 150.6 109.7 147C110.4 143.4 110.8 139.9 110.5 135.5C110.3 131.1 109.3 125.9 108.4 120.7C107.5 115.5 106.1 110.3 105.1 104.3C104.1 98.3 102.8 87.9 102.3 84.6" fill="none" stroke="#000" stroke-width="6.0" stroke-linejoin="round" stroke-linecap="round"/>
<path d="M123.6 141.6 L133.6 142.6" fill="none" stroke="#000" stroke-width="6.4" stroke-linejoin="round" stroke-linecap="round"/>
<path d="M136.2 146.3 L139.3 155.2" fill="none" stroke="#000" stroke-width="6.4" stroke-linejoin="round" stroke-linecap="round"/>
<path d="M142 158.9 L144.6 166.3" fill="none" stroke="#000" stroke-width="6.4" stroke-linejoin="round" stroke-linecap="round"/>
<path d="M146.7 169.9 L149.8 178.3" fill="none" stroke="#000" stroke-width="6.4" stroke-linejoin="round" stroke-linecap="round"/>
<path d="M151.9 182 L154 187.3" fill="none" stroke="#000" stroke-width="6.4" stroke-linejoin="round" stroke-linecap="round"/>
<path d="M157.7 192 L164.6 197.3" fill="none" stroke="#000" stroke-width="6.4" stroke-linejoin="round" stroke-linecap="round"/>
<path d="M125.4 159.4C125.8 161.1 126.8 166.3 127.5 169.4C128.3 172.6 129.5 176.9 129.9 178.3" fill="none" stroke="#000" stroke-width="9.5" stroke-linejoin="round" stroke-linecap="round"/>
<path d="M167.2 209.9 L169.8 215.7" fill="none" stroke="#000" stroke-width="6" stroke-linejoin="round" stroke-linecap="round"/>
<path d="M61.8 189.4C61.4 188 65.5 184.4 68.4 182.8C71.2 181.2 75.4 180.1 78.9 179.7C82.4 179.2 85.9 179 89.4 180.2C92.9 181.3 96.4 184.3 99.9 186.5C103.4 188.6 106.9 190.9 110.4 193.1C113.9 195.2 117.4 197.2 120.9 199.6C124.4 202 127.9 205.1 131.5 207.5C135 209.9 138.5 212.1 142 214.1C145.5 216 148.9 217.9 152.5 219.3C156.1 220.7 163.4 221.7 163.5 222.5C163.6 223.3 157 224.1 153 224.1C149 224 143.4 223.3 139.3 222C135.3 220.6 132.3 218.3 128.8 216.2C125.3 214.1 121.8 211.8 118.3 209.3C114.8 206.9 111.3 203.9 107.8 201.5C104.3 199.1 100.8 196.6 97.3 194.9C93.8 193.1 90.1 191 86.8 191C83.5 190.9 80 194.6 77.3 194.6C74.7 194.6 73.6 191.8 71 191C68.4 190.1 62.3 190.7 61.8 189.4Z" fill="none" stroke="#000" stroke-width="6.6" stroke-linejoin="round" stroke-linecap="round"/>
<path d="M124.9 222C127.3 222.2 134.3 223.2 139.3 223.5C144.4 223.9 152.5 224 155.1 224.1" fill="none" stroke="#000" stroke-width="7" stroke-linejoin="round" stroke-linecap="round"/>
<ellipse cx="76.8" cy="196.2" rx="4" ry="4" fill="#000"/>
<path d="M117.5 241.9C117.8 240.3 121.3 238.5 124.1 238.5C126.9 238.5 131.8 240.5 134.1 241.9C136.4 243.3 138.2 245.7 137.8 246.9C137.3 248.2 134 249.3 131.5 249.5C128.9 249.8 124.8 249.5 122.5 248.2C120.2 247 117.3 243.5 117.5 241.9Z" fill="#000" stroke="#000" stroke-width="4" stroke-linejoin="round"/>
<path d="M165.6 226.2C167.1 226.1 172.6 228.2 176.1 228.8C179.6 229.4 183.1 229.4 186.6 229.8C190.1 230.3 194.1 230.5 197.1 231.4C200.2 232.3 202.4 233.4 205 235.1C207.6 236.8 211.4 239.5 212.9 241.7C214.4 243.9 215.1 246.9 214.2 248.2C213.3 249.5 210.1 250 207.6 249.5C205.2 249.1 202.4 245.8 199.8 245.6C197.1 245.4 194.3 246.7 191.9 248.2C189.5 249.8 187.3 254.4 185.3 254.8C183.3 255.2 182 252.4 180.1 250.9C178.1 249.3 175.9 246.3 173.5 245.6C171.1 245 168.2 246.9 165.6 246.9C163 246.9 159.5 246.5 157.7 245.6C156 244.7 154.7 242.8 155.1 241.7C155.5 240.6 157.9 239.3 160.4 239C162.8 238.8 167.6 241.2 169.5 240.4C171.5 239.5 172.6 235.6 172.2 233.8C171.7 231.9 168 230.6 166.9 229.3C165.8 228 164.1 226.3 165.6 226.2Z" fill="none" stroke="#000" stroke-width="7.6" stroke-linejoin="round"/>
<path d="M225.5 247.2C226.8 246.2 231.3 245.3 233.9 245.3C236.5 245.3 240.2 246.2 241.3 247.2C242.4 248.2 241.9 250.4 240.5 251.4C239 252.4 235 253 232.6 253C230.2 253 227.2 252.4 226 251.4C224.9 250.4 224.2 248.2 225.5 247.2Z" fill="#000" stroke="#000" stroke-width="3.5" stroke-linejoin="round"/>
<ellipse cx="282.5" cy="272.1" rx="4.4" ry="4.4" fill="#000"/>
<ellipse cx="288" cy="287.9" rx="4.2" ry="4.2" fill="#000"/>
<path d="M43 257.9C44 258.3 46.7 258.6 49 260C51.4 261.3 55.2 263 57 266C58.9 269 59.7 274 60 278C60.4 282 59.6 286 59 290C58.5 294 57.5 297.7 56.6 302C55.8 306.4 54 311.7 54 316C54.1 320.4 55.5 324.4 57 328.1C58.5 331.7 60.5 335 63 338.1C65.5 341.1 69.6 344.5 72.1 346.5C74.6 348.5 75.9 349.8 78.1 350.1C80.2 350.4 82.6 349.4 85.1 348.1C87.6 346.8 90.7 343.4 93.1 342.5C95.5 341.5 97.5 341.2 99.5 342.5C101.5 343.8 103.2 347.5 105.1 350.1C107 352.7 109.3 354.1 110.7 358.1C112.2 362.1 113.2 368.8 113.7 374.1C114.3 379.5 114.1 384.5 114.1 390.2C114.1 395.8 113.8 405.2 113.7 408.2" fill="none" stroke="#000" stroke-width="6.3" stroke-linejoin="round" stroke-linecap="round"/>
<path d="M41 333.1C41.7 333.9 43.3 335.7 45 338.1C46.7 340.4 48.7 344.7 51 347.1C53.4 349.5 55.7 350.9 59 352.5C62.4 354.1 68 354.5 71.1 356.5C74.1 358.5 75.5 362.8 77.5 364.5C79.5 366.2 81.2 367.5 83.1 366.5C84.9 365.5 86.7 361.2 88.7 358.5C90.7 355.8 94 351.5 95.1 350.1" fill="none" stroke="#000" stroke-width="6.3" stroke-linejoin="round" stroke-linecap="round"/>
<path d="M113.7 349.1C115.1 351.9 119.6 365.6 122.1 365.7C124.7 365.9 126.6 355.4 129.2 350.1C131.7 344.8 134.2 337.3 137.2 333.7C140.2 330.1 143.5 329.5 147.2 328.5C150.9 327.4 154.9 328.7 159.2 327.3C163.5 325.9 169.5 321.8 173.2 320C176.9 318.3 179.4 316.5 181.2 317C183.1 317.5 184.7 320.9 184.4 323.1C184.2 325.2 180.7 326.9 179.6 330.1C178.6 333.2 178.2 338 178.2 342.1C178.2 346.2 178.6 353.2 179.6 354.5C180.6 355.8 182.6 353.2 184.2 350.1C185.8 347 187.4 341.1 189.2 336.1C191.1 331.1 193.3 321.7 195.3 320C197.3 318.4 198.6 323.7 201.3 326.5C203.9 329.2 207.3 334.3 211.3 336.5C215.3 338.6 220.6 338.5 225.3 339.3C230 340.1 234.3 340.6 239.3 341.3C244.3 341.9 251 343.8 255.4 343.3C259.7 342.8 260.4 339.5 265.4 338.5C270.4 337.5 281 336.3 285.4 337.3C289.8 338.3 290.7 340.6 291.8 344.5C292.9 348.4 291.2 357.2 291.8 360.5C292.4 363.9 294.8 363.9 295.4 364.5" fill="none" stroke="#000" stroke-width="6.3" stroke-linejoin="round" stroke-linecap="round"/>
<path d="M295.3 360.5C296.9 362 302 366.2 305.2 369.2C308.4 372.2 310.9 375.7 314.5 378.6C318.2 381.4 322.3 384.3 327 386.3C331.6 388.4 336.8 390.2 342.5 391C348.2 391.8 355.4 390.2 361.1 391C366.8 391.8 371.7 393.7 376.7 395.6C381.6 397.6 387 400.5 390.6 402.8C394.3 405.1 397.1 408.5 398.4 409.6" fill="none" stroke="#000" stroke-width="6.3" stroke-linejoin="round" stroke-linecap="round"/>
<text x="61.0" y="143.9" font-size="50" fill="#000" font-weight="bold" stroke="#000" stroke-width="1.3" stroke-linejoin="round" textLength="29.5" lengthAdjust="spacingAndGlyphs">A</text>
<text x="89.5" y="143.9" font-size="50" fill="#000" font-weight="bold" stroke="#000" stroke-width="1.3" stroke-linejoin="round" textLength="12.5" lengthAdjust="spacingAndGlyphs">)</text>
</g>
<path fill="#25282b" fill-rule="evenodd" d="M35 78H677V412H35ZM41 84H668V405H41Z"/>
<g clip-path="url(#clipB)">
<rect x="705" y="70" width="662" height="350" fill="#fff000"/>
<path d="M705 70C815.5 16.7 1259.2 15.6 1367 70C1474.8 124.4 1355.5 342 1351.8 396.6C1348.2 451.1 1348.1 396.6 1345 397.2C1341.9 397.8 1340.3 399.3 1333.2 400.3C1326.1 401.3 1312.5 402.6 1302.1 403.4C1291.8 404.2 1286.6 404.8 1271.1 405.3C1255.5 405.8 1229.7 406.2 1209 406.5C1188.2 406.8 1167.5 407 1146.8 407.1C1126.1 407.2 1097.7 407.5 1084.7 407.1C1071.8 406.8 1074.4 406.9 1069.2 405C1064 403 1061.4 399 1053.7 395.6C1045.9 392.3 1031.9 388.7 1022.6 384.8C1013.3 380.9 1004.5 376.7 997.7 372.3C991 367.9 986.1 361.7 982.2 358.4C978.3 355 976.2 352 974.5 352.2C972.8 352.3 975 358.5 972 359.1C969 359.8 961.3 356.4 956.4 356.1C951.4 355.8 946.7 357.4 942.4 357.1C938 356.8 935.4 355.1 930.3 354.1C925.3 353.1 918.7 351.8 912.3 351.1C906 350.4 899 350.3 892.3 350.1C885.6 349.9 877.4 350.1 872.3 350.1C867.1 350.1 863.2 351.8 861.2 350.1C859.2 348.4 860.2 344.1 860.2 340.1C860.2 336.1 861.4 329.9 861.2 326.1C861.1 322.2 860.7 318.8 859.2 317C857.7 315.3 855.4 316.6 852.2 315.6C849.1 314.6 844.9 312.3 840.2 311C835.5 309.8 829.5 308.7 824.2 308C818.8 307.4 812.5 306.5 808.2 307C803.8 307.5 799.5 308.9 798.1 311C796.8 313.2 800.5 317.2 800.1 320C799.8 322.9 797.6 325.4 796.1 328.1C794.6 330.7 792.3 333.7 791.1 336.1C790 338.4 789.3 339.7 789.1 342.1C789 344.4 789.8 347.1 790.1 350.1C790.5 353.1 791.3 356.1 791.1 360.1C791 364.1 789.8 370.1 789.1 374.1C788.5 378.1 789 381.7 787.1 384.2C785.3 386.6 783.9 387.4 778.1 388.6C772.3 389.7 761.7 391 752.1 391.2C742.4 391.4 728 390 720 389.8C712 389.5 706.5 443.1 704 389.8C701.5 336.5 594.5 123.3 705 70Z" fill="#ffbe00" stroke="#2a0600" stroke-width="1.1" stroke-opacity="0.8" stroke-linejoin="round"/>
<path d="M705 70C815.5 18.7 1259.2 19.6 1367 70C1474.8 120.4 1355.5 321.7 1351.8 372.3C1348.2 423 1347.1 373.1 1345 373.9C1342.9 374.7 1342.4 375.2 1339.4 377C1336.4 378.8 1333.2 383.1 1327 384.8C1320.8 386.5 1311.5 386.6 1302.1 387.3C1292.8 387.9 1281.4 388.1 1271.1 388.5C1260.7 388.9 1250.4 389.5 1240 389.4C1229.7 389.3 1219.3 388.2 1209 387.9C1198.6 387.5 1188.2 387.2 1177.9 387.3C1167.5 387.4 1157.2 388.4 1146.8 388.5C1136.5 388.6 1126.1 388.8 1115.8 387.9C1105.4 387 1092.5 385 1084.7 383.2C1077 381.4 1074.4 379.3 1069.2 377C1064 374.7 1058.3 371.8 1053.7 369.2C1049 366.7 1047.4 364.3 1041.2 361.5C1035 358.6 1024.7 355 1016.4 352.2C1008.1 349.3 999.8 347.2 991.5 344.4C983.3 341.5 975 337.9 966.7 335.1C958.4 332.2 950.1 329.9 941.8 327.3C933.6 324.7 925.3 322.1 917 319.5C908.7 317 900.4 314.1 892.1 311.8C883.9 309.4 875.6 307.6 867.3 305.6C859 303.5 850.7 301.2 842.5 299.4C834.2 297.5 825.9 295.7 817.6 294.7C809.3 293.7 799.7 293.1 792.8 293.1C785.8 293.1 778.8 294.2 775.7 294.7C772.6 295.2 774 293.5 774.1 296C774.2 298.6 775.4 305.7 776.1 310C776.8 314.4 778.4 318.4 778.5 322.1C778.6 325.7 777.2 329.1 776.5 332.1C775.8 335.1 773.8 337.1 774.1 340.1C774.4 343.1 777.3 346.4 778.1 350.1C778.9 353.8 780.1 358.8 779.1 362.1C778.1 365.5 776.6 367.8 772.1 370.1C767.6 372.5 758.7 374.8 752.1 376.1C745.4 377.5 737.4 377.9 732 378.1C726.7 378.4 724.7 377.6 720 377.5C715.3 377.4 706.5 428.8 704 377.5C701.5 326.3 594.5 121.3 705 70Z" fill="#ff9c00" stroke="#2a0600" stroke-width="1.1" stroke-opacity="0.8" stroke-linejoin="round"/>
<path d="M705 70C816.2 38.8 1259.2 28.2 1367 70C1474.8 111.8 1355.5 279 1351.8 321.1C1348.2 363.2 1348.1 321.9 1345 322.6C1341.9 323.4 1337.2 324.2 1333.2 325.8C1329.2 327.3 1323.9 329.9 1320.8 332C1317.7 334 1317.7 336.1 1314.6 338.2C1311.5 340.2 1306.3 342.3 1302.1 344.4C1298 346.5 1294.9 349.1 1289.7 350.6C1284.5 352.2 1277.3 352.7 1271.1 353.7C1264.9 354.7 1256.6 355.5 1252.4 356.8C1248.3 358.1 1248.3 361.7 1246.2 361.5C1244.2 361.2 1246.2 356.5 1240 355.3C1233.8 354.1 1219.3 354.3 1209 354.3C1198.6 354.3 1188.2 355.4 1177.9 355.3C1167.5 355.2 1155.6 354.2 1146.8 353.7C1138 353.2 1132.3 353.2 1125.1 352.2C1117.8 351.1 1110.1 349.3 1103.4 347.5C1096.6 345.7 1090.4 343.1 1084.7 341.3C1079 339.5 1077 338.7 1069.2 336.6C1061.4 334.6 1048.5 331.2 1038.1 328.9C1027.8 326.5 1017.4 324.7 1007.1 322.6C996.7 320.6 985.8 318.8 976 316.4C966.2 314.1 956.9 311.3 948.1 308.7C939.3 306.1 931.5 303.8 923.2 300.9C914.9 298.1 906.6 294.4 898.4 291.6C890.1 288.7 881.8 285.4 873.5 283.8C865.2 282.3 855.9 283.3 848.7 282.3C841.4 281.2 835.7 279.4 830 277.6C824.3 275.8 820.7 273.2 814.5 271.4C808.3 269.6 799.5 267.3 792.8 266.7C786 266.2 779.8 268.8 774.1 268.3C768.4 267.8 763.8 264.9 758.6 263.6C753.4 262.3 747.7 260.8 743.1 260.5C738.4 260.3 734.5 262.3 730.6 262.1C726.8 261.8 725.3 259.8 720.1 259C714.9 258.2 702.1 288.9 699.6 257.4C697.1 225.9 593.8 101.2 705 70Z" fill="#ff6a0c" stroke="#2a0600" stroke-width="1.1" stroke-opacity="0.8" stroke-linejoin="round"/>
<path d="M705 70C815.9 59.6 1257.3 32.1 1367 70C1476.7 107.9 1367.1 259.7 1363.5 297.3C1359.9 334.9 1349.5 296.2 1345.4 295.7C1341.3 295.1 1341.3 294.2 1338.8 294C1336.4 293.9 1333.4 294.3 1330.6 294.9C1327.9 295.4 1325.2 296.2 1322.4 297.3C1319.7 298.4 1316.9 300.1 1314.2 301.4C1311.5 302.8 1308.7 304 1306 305.5C1303.3 307 1300.5 308.7 1297.8 310.5C1295 312.2 1293.7 314.7 1289.6 316.2C1285.5 317.7 1278.6 318.4 1273.2 319.5C1267.7 320.6 1262.2 322 1256.7 322.8C1251.3 323.6 1245.2 323.9 1240.3 324.4C1235.4 325 1230.7 326.5 1227.2 326.1C1223.6 325.6 1221.4 323.6 1219 322C1216.5 320.3 1215.7 317.3 1212.4 316.2C1209.1 315.1 1204.2 315.5 1199.3 315.4C1194.3 315.2 1188.3 315.2 1182.8 315.4C1177.4 315.5 1172.3 315.5 1166.4 316.2C1160.6 316.9 1153.6 318.8 1147.8 319.5C1141.9 320.2 1136.8 320 1131.4 320.3C1125.9 320.6 1120.4 321.1 1114.9 321.1C1109.5 321.1 1104 320.3 1098.5 320.3C1093 320.3 1087.6 320.9 1082.1 321.1C1076.6 321.4 1071.2 321.7 1065.7 322C1060.2 322.2 1054.7 322.9 1049.3 322.8C1043.8 322.6 1038.3 321.8 1032.8 321.1C1027.4 320.4 1021.9 319.6 1016.4 318.7C1010.9 317.7 1003.7 316.1 1000 315.4C996.3 314.7 997.6 315.1 994.5 314.4C991.4 313.7 985.7 312.4 981.4 311.1C977 309.9 972.6 308.5 968.2 307C963.8 305.5 959.5 303.5 955.1 302.1C950.7 300.7 946.3 300 942 298.8C937.6 297.6 933.2 296.1 928.8 294.7C924.4 293.3 920.1 292.1 915.7 290.6C911.3 289.1 906.9 287.6 902.5 285.7C898.2 283.8 893.8 281.3 889.4 279.1C885 276.9 880.7 274.5 876.3 272.5C871.9 270.6 867.5 268.4 863.1 267.6C858.8 266.8 852.4 268.3 850 267.6C847.6 267 849.4 266.4 848.7 263.6C847.9 260.9 855.2 256.5 845.6 251.2C835.9 245.9 800.5 236.9 790.8 231.7C781.2 226.5 788 223.1 787.7 219.9C787.3 216.7 787.3 214.3 788.7 212.5C790.1 210.8 793.8 210.4 796.1 209.4C798.4 208.3 800.6 208.4 802.6 206.2C804.7 204 807.1 200.1 808.2 196.2C809.3 192.4 809.2 187.9 809.2 183.1C809.2 178.3 808.8 171.7 808.2 167.3C807.5 163 806.9 160.3 805.3 156.8C803.7 153.3 801.1 147.8 798.7 146.3C796.3 144.8 793.5 146.1 790.8 147.6C788.1 149.2 785 154.7 782.4 155.8C779.8 156.9 778 156.6 775.1 154.2C772.1 151.7 768.1 143.9 764.5 141.1C761 138.2 757.5 138.5 754 137.1C750.5 135.7 747 133.1 743.5 132.7C740 132.2 737 134.4 733 134.5C729.1 134.6 725.1 133.5 719.9 133.2C714.6 132.9 704 143.2 701.5 132.7C699 122.1 594.1 80.4 705 70Z" fill="#ff3c00" stroke="#2a0600" stroke-width="1.1" stroke-opacity="0.8" stroke-linejoin="round"/>
<path d="M705 70C815.9 63.4 1257.3 36.1 1367 70C1476.7 103.9 1367.1 239.2 1363.5 273.5C1359.9 307.8 1350.9 275.2 1345.4 276C1339.9 276.8 1335.8 277.2 1330.6 278.4C1325.4 279.7 1319.7 282 1314.2 283.4C1308.7 284.7 1301.9 286.4 1297.8 286.7C1293.7 286.9 1292.9 285.1 1289.6 285C1286.3 284.9 1282.2 285.4 1278.1 285.8C1274 286.2 1269.9 287.2 1264.9 287.5C1260 287.7 1254 287.2 1248.5 287.5C1243 287.7 1237.6 288.6 1232.1 289.1C1226.6 289.7 1221.2 290.2 1215.7 290.8C1210.2 291.3 1204.7 291.7 1199.3 292.4C1193.8 293.1 1188.3 294 1182.8 294.9C1177.4 295.7 1172.3 296.1 1166.4 297.3C1160.6 298.6 1153.6 300.9 1147.8 302.2C1141.9 303.6 1136.8 304.6 1131.4 305.5C1125.9 306.5 1120.4 307.4 1114.9 308C1109.5 308.5 1104 308.5 1098.5 308.8C1093 309.1 1087.6 309.4 1082.1 309.6C1076.6 309.9 1071.2 310.6 1065.7 310.5C1060.2 310.3 1054.7 309.2 1049.3 308.8C1043.8 308.4 1038.3 308.5 1032.8 308C1027.4 307.4 1021.9 306.5 1016.4 305.5C1010.9 304.6 1004.2 302.8 1000 302.2C995.8 301.7 994.9 302.7 991.2 302.1C987.6 301.5 982.5 300 978.1 298.8C973.7 297.6 968.8 296.4 964.9 294.7C961.1 293.1 958.4 290.5 955.1 289C951.8 287.5 949.1 286.8 945.2 285.7C941.4 284.6 936.5 283.8 932.1 282.4C927.7 281 923.1 279.4 919 277.5C914.9 275.6 911 272.8 907.5 270.9C903.9 269 900.9 268.2 897.6 266C894.3 263.8 891.1 260.2 887.8 257.8C884.5 255.3 880.1 253.1 877.9 251.2C875.7 249.3 876 248.7 874.6 246.3C873.3 243.8 871.1 239.7 869.7 236.4C868.3 233.1 867.3 227.6 866.4 226.6C865.5 225.6 864.9 231.5 864.4 230.4C863.8 229.3 864 222.9 863.1 219.9C862.2 216.8 860.2 214.6 859.1 212C858 209.4 857 207.2 856.5 204.1C856 201.1 855.8 196.7 856 193.6C856.2 190.5 856.4 187.9 857.8 185.7C859.2 183.5 862 182 864.4 180.5C866.8 178.9 869.9 178.3 872.3 176.5C874.7 174.8 876.4 171.5 878.8 170C881.3 168.4 884.3 168.6 886.7 167.3C889.1 166 891.1 164 893.3 162.1C895.5 160.1 897.7 157 899.9 155.5C902.1 154 904 154 906.4 152.9C908.8 151.8 912.1 150.7 914.3 148.9C916.5 147.2 917.6 143.9 919.6 142.4C921.5 140.8 923.7 139.7 926.1 139.7C928.5 139.7 932 143 934 142.4C936 141.7 936.4 138 938 135.8C939.5 133.6 941.5 131.6 943.2 129.2C945 126.8 947.8 123.4 948.5 121.4C949.1 119.3 948.5 118 947.2 116.9C945.8 115.8 943.4 115.1 940.6 114.8C937.7 114.4 933.6 114.3 930.1 114.8C926.6 115.2 922.6 116.3 919.6 117.4C916.5 118.5 914.8 120.9 911.7 121.4C908.6 121.8 904.2 119.8 901.2 120C898.1 120.3 896.4 121.6 893.3 122.7C890.2 123.8 885.8 126.4 882.8 126.6C879.7 126.8 878 124.6 874.9 124C871.8 123.3 867.9 123.3 864.4 122.7C860.9 122 856.9 121.4 853.9 120C850.8 118.7 849.1 116.3 846 114.8C842.9 113.3 839.4 111.7 835.5 110.8C831.5 110 826.7 110 822.4 109.5C818 109.1 813.2 108.2 809.2 108.2C805.3 108.2 801.8 108.7 798.7 109.5C795.6 110.4 793.5 113.3 790.8 113.5C788.2 113.7 785.1 112.2 782.9 110.8C780.8 109.5 780.8 106.7 777.7 105.6C774.6 104.5 771.1 103.7 764.5 104.3C758 104.8 745.7 108.1 738.3 109C730.8 109.9 726 109.4 719.9 109.5C713.8 109.6 704 116.1 701.5 109.5C699 102.9 594.1 76.6 705 70Z" fill="#dc0000" stroke="#2a0600" stroke-width="1.1" stroke-opacity="0.8" stroke-linejoin="round"/>
<path d="M1039.1 70.1C1094.9 72.4 1038.5 80.3 1036.5 83.8C1034.5 87.3 1031.9 88.6 1027.3 91.1C1022.7 93.7 1015.5 96.8 1008.9 99C1002.3 101.2 995.3 103 987.9 104.3C980.4 105.5 970.8 106.2 964.2 106.4C957.7 106.6 954.2 105.8 948.5 105.3C942.8 104.9 936.2 103.8 930.1 103.7C923.9 103.7 917.4 104.4 911.7 104.8C906 105.2 900.7 105.5 895.9 106.4C891.1 107.3 887.2 109 882.8 110.1C878.4 111.1 873.6 112.1 869.6 112.7C865.7 113.3 862.6 114.2 859.1 113.7C855.6 113.3 852.6 111.4 848.6 110.1C844.7 108.7 839.9 106.8 835.5 105.9C831.1 104.9 826.7 104.7 822.4 104.3C818 103.8 813.6 102.8 809.2 103.2C804.8 103.7 799.6 106.2 796.1 106.9C792.6 107.6 791.3 108.3 788.2 107.4C785.1 106.6 781.6 103 777.7 101.6C773.7 100.3 771.1 99.5 764.5 99.5C758 99.6 745.7 101.6 738.3 102.2C730.8 102.7 726 102.8 719.9 103C713.8 103.1 704.6 108.4 701.5 103C698.4 97.5 645.2 75.6 701.5 70.1C757.8 64.6 983.3 67.8 1039.1 70.1Z" fill="#cc0000" stroke="#2a0600" stroke-width="1.1" stroke-opacity="0.8" stroke-linejoin="round"/>
<path d="M1135 68.7C1103.8 71.2 1134 80.3 1136 83.9C1137.9 87.5 1142.4 88.8 1146.8 90.4C1151.2 92 1156.2 92.8 1162.4 93.5C1168.6 94.3 1176.3 94.3 1184.1 95.1C1191.9 95.9 1200.7 97.4 1209 98.2C1217.2 99 1225.5 100 1233.8 99.7C1242.1 99.5 1250.4 97.7 1258.7 96.6C1266.9 95.6 1276.3 94.6 1283.5 93.5C1290.7 92.5 1296.4 91.2 1302.1 90.4C1307.8 89.6 1314.3 90 1317.7 88.9C1321 87.8 1321.4 87.3 1322.3 83.9C1323.3 80.5 1354.5 71.2 1323.3 68.7C1292 66.1 1166.2 66.1 1135 68.7Z" fill="#ff3c00" stroke="#2a0600" stroke-width="1.1" stroke-opacity="0.8" stroke-linejoin="round"/>
<path d="M1056.8 87.9C1059.6 88.2 1064 89.5 1066.1 92C1068.2 94.5 1069.2 99.2 1069.2 102.8C1069.2 106.5 1067.9 110.6 1066.1 113.7C1064.3 116.8 1060.9 120.7 1058.3 121.5C1055.7 122.3 1052.6 120.4 1050.6 118.4C1048.5 116.3 1046.8 112.4 1045.9 109.1C1045 105.7 1044.4 101.3 1045 98.2C1045.5 95.1 1047 92.1 1049 90.4C1051 88.7 1053.9 87.7 1056.8 87.9Z" fill="#ff3c00" stroke="#2a0600" stroke-width="1.1" stroke-opacity="0.8" stroke-linejoin="round"/>
<path d="M702.7 68.7C647 72.6 699.8 88.1 702.7 92C705.6 95.9 713.3 91.7 720.1 92C726.8 92.2 734.1 93.7 743.1 93.5C752.1 93.4 763.8 91 774.1 91C784.5 91 794.8 93.2 805.2 93.5C815.5 93.8 828 92.6 836.2 92.9C844.5 93.2 848.7 93.7 854.9 95.1C861.1 96.5 868.3 99.7 873.5 101.3C878.7 102.8 881.8 104.1 885.9 104.4C890.1 104.7 893.7 103.6 898.4 102.8C903 102.1 908.7 100.7 913.9 99.7C919.1 98.8 923.7 98 929.4 97.3C935.1 96.5 941.8 95.7 948.1 95.1C954.3 94.5 960.5 93.9 966.7 93.5C972.9 93.2 979.1 93.4 985.3 92.9C991.5 92.4 997.7 91.3 1004 90.4C1010.2 89.6 1017.4 89 1022.6 87.9C1027.8 86.9 1032.7 87.1 1035 83.9C1037.4 80.7 1092 71.2 1036.6 68.7C981.2 66.1 758.3 64.8 702.7 68.7Z" fill="#a80000" stroke="#2a0600" stroke-width="1.1" stroke-opacity="0.8" stroke-linejoin="round"/>
<path d="M844 68.7C825.6 71.2 843.2 80.5 845.6 83.9C847.9 87.3 853.3 87.3 858 88.9C862.6 90.5 868.3 92.8 873.5 93.5C878.7 94.3 883.9 94 889 93.5C894.2 93 898.9 91.5 904.6 90.4C910.3 89.4 917 88 923.2 87.3C929.4 86.6 936.7 86.6 941.8 86.1C947 85.5 951.9 86.8 954.3 83.9C956.6 81 974.2 71.2 955.8 68.7C937.4 66.1 862.4 66.1 844 68.7Z" fill="#990000" stroke="#2a0600" stroke-width="1.1" stroke-opacity="0.8" stroke-linejoin="round"/>
<path d="M1363.5 114C1360.5 90.6 1349.5 114.5 1345.4 114.8C1341.3 115.1 1342.7 114.8 1338.8 115.6C1335 116.4 1327.9 118.5 1322.4 119.7C1316.9 120.9 1311.2 122.3 1306 123C1300.8 123.7 1295.9 124.2 1291.2 123.8C1286.6 123.4 1282.5 121.8 1278.1 120.5C1273.7 119.3 1269.3 117 1264.9 116.4C1260.6 115.9 1255.6 116.4 1251.8 117.2C1248 118.1 1245.2 120.8 1242 121.3C1238.7 121.9 1236.5 120.9 1232.1 120.5C1227.7 120.1 1221.2 119.4 1215.7 118.9C1210.2 118.3 1204.7 117.4 1199.3 117.2C1193.8 117.1 1188.3 117.5 1182.8 118.1C1177.4 118.6 1171.9 120.3 1166.4 120.5C1160.9 120.8 1156 120 1150 119.7C1144 119.4 1136.6 118.7 1130.6 118.9C1124.7 119 1119.1 119.8 1114.2 120.5C1109.3 121.2 1105.4 121.9 1101.1 123C1096.7 124.1 1092.3 125.6 1087.9 127.1C1083.6 128.6 1079.2 130.7 1074.8 132C1070.4 133.4 1066 134.3 1061.7 135.3C1057.3 136.3 1052.9 137.2 1048.5 137.8C1044.1 138.3 1038.9 139 1035.4 138.6C1031.8 138.2 1029.6 136.8 1027.2 135.3C1024.7 133.8 1023.1 130.5 1020.6 129.6C1018.1 128.6 1015.4 129.3 1012.4 129.6C1009.4 129.8 1005.8 130.2 1002.5 131.2C999.3 132.2 996 133.9 992.7 135.3C989.4 136.7 986.4 137.5 982.8 139.4C979.3 141.3 975.2 144.9 971.3 146.8C967.5 148.7 963.4 149.1 959.9 150.9C956.3 152.7 953.5 155.2 950 157.5C946.5 159.8 941.9 162.6 938.7 164.6C935.4 166.6 933.2 167.6 930.5 169.6C927.7 171.5 924.7 173.7 922.2 176.1C919.8 178.6 918.4 181.6 915.7 184.3C912.9 187.1 908.6 189.9 905.8 192.5C903.1 195.1 901.2 197.5 899.3 199.9C897.3 202.4 895.7 204.4 894.3 207.3C893 210.2 891.6 214.2 891.1 217.2C890.5 220.2 890.8 223.8 891.1 225.4C891.3 227 891.3 225 892.7 226.6C894.1 228.1 896.5 232.6 899.3 234.8C902 237 905.6 238.1 909.1 239.7C912.7 241.3 916.8 242.7 920.6 244.6C924.4 246.5 928.5 249 932.1 251.2C935.7 253.4 938.7 255.3 942 257.8C945.2 260.2 948.5 263.2 951.8 266C955.1 268.7 958.4 271.6 961.7 274.2C964.9 276.8 968 279.5 971.5 281.6C975.1 283.6 978.9 285.1 983 286.5C987.1 287.9 993.3 289.1 996.1 289.8C999 290.5 996.6 289.9 1000 290.8C1003.4 291.6 1010.9 293.8 1016.4 294.9C1021.9 296 1027.4 296.8 1032.8 297.3C1038.3 297.9 1043.8 297.9 1049.3 298.1C1054.7 298.4 1060.2 299 1065.7 299C1071.2 299 1076.6 298.6 1082.1 298.1C1087.6 297.7 1093 297 1098.5 296.5C1104 296 1109.5 295.5 1114.9 294.9C1120.4 294.2 1125.9 293.5 1131.4 292.4C1136.8 291.3 1141.9 289.8 1147.8 288.3C1153.6 286.8 1160.6 284.9 1166.4 283.4C1172.3 281.9 1177.4 280.8 1182.8 279.3C1188.3 277.8 1193.8 275.6 1199.3 274.3C1204.7 273.1 1210.2 272.3 1215.7 271.9C1221.2 271.5 1226.6 271.9 1232.1 271.9C1237.6 271.9 1243 271.9 1248.5 271.9C1254 271.9 1259.5 272 1264.9 271.9C1270.4 271.7 1275.9 271.5 1281.4 271.1C1286.8 270.6 1292.3 270.1 1297.8 269.4C1303.3 268.7 1308.7 268 1314.2 266.9C1319.7 265.9 1325.4 264.2 1330.6 262.8C1335.8 261.5 1339.9 260.1 1345.4 258.7C1350.9 257.4 1360.5 278.8 1363.5 254.6C1366.5 230.5 1366.5 137.3 1363.5 114Z" fill="#a80000" stroke="#2a0600" stroke-width="1.1" stroke-opacity="0.8" stroke-linejoin="round"/>
<path d="M1363.5 130.4C1360.5 110.9 1350.9 130.5 1345.4 131.2C1339.9 131.9 1335.8 133.3 1330.6 134.5C1325.4 135.7 1319.7 137.5 1314.2 138.6C1308.7 139.7 1303.3 140.8 1297.8 141.1C1292.3 141.3 1286.8 140.6 1281.4 140.2C1275.9 139.8 1270.4 139.5 1264.9 138.6C1259.5 137.7 1254 135.4 1248.5 134.8C1243 134.2 1237.6 134.7 1232.1 134.8C1226.6 134.9 1221.2 135.4 1215.7 135.3C1210.2 135.2 1204.7 134.9 1199.3 134.5C1193.8 134.1 1188.3 132.8 1182.8 132.8C1177.4 132.8 1171.9 134.1 1166.4 134.5C1160.9 134.9 1156 135.2 1150 135.3C1144 135.4 1137.1 135.2 1130.6 135.3C1124.1 135.4 1116.4 135.6 1110.9 136.1C1105.4 136.7 1102.2 137.6 1097.8 138.6C1093.4 139.5 1089 140.6 1084.6 141.9C1080.3 143.1 1075.9 144.7 1071.5 146C1067.1 147.2 1062.8 148.3 1058.4 149.3C1054 150.2 1049.6 151 1045.2 151.7C1040.9 152.4 1036.5 153.2 1032.1 153.4C1027.7 153.5 1022.8 152.8 1019 152.5C1015.1 152.3 1012.4 151.6 1009.1 151.7C1005.8 151.9 1002.5 152.5 999.3 153.4C996 154.2 993.2 155.4 989.4 156.7C985.6 157.9 980.7 159.3 976.3 160.8C971.9 162.3 967.5 163.6 963.1 165.7C958.8 167.7 953.5 170.2 950 173.1C946.5 175.9 944.9 180 942 182.7C939 185.4 934.6 186.8 932.1 189.3C929.6 191.7 928.8 194.2 927.2 197.5C925.5 200.8 923.8 205.4 922.2 209C920.7 212.5 919 216.1 918.1 218.8C917.3 221.6 917.5 224.1 917.3 225.4C917.2 226.7 916.2 225.6 917.3 226.6C918.4 227.6 920.9 229.6 923.9 231.5C926.9 233.4 931.8 235.9 935.4 238.1C938.9 240.3 942 242.2 945.2 244.6C948.5 247.1 952.1 250.1 955.1 252.8C958.1 255.6 960.6 258.5 963.3 261.1C966 263.7 968.5 266.3 971.5 268.4C974.5 270.6 977.8 272.5 981.4 274.2C984.9 275.8 989.8 277.7 992.9 278.3C996 278.9 996.1 277 1000 277.6C1003.9 278.2 1010.9 280.5 1016.4 281.7C1021.9 283 1027.4 284.2 1032.8 285C1038.3 285.8 1043.8 286.4 1049.3 286.7C1054.7 286.9 1060.2 286.8 1065.7 286.7C1071.2 286.5 1076.6 286.2 1082.1 285.8C1087.6 285.4 1093 284.9 1098.5 284.2C1104 283.5 1109.5 282.7 1114.9 281.7C1120.4 280.8 1125.9 279.4 1131.4 278.4C1136.8 277.5 1141.9 276.8 1147.8 276C1153.6 275.2 1160.6 274.7 1166.4 273.5C1172.3 272.3 1177.4 270.1 1182.8 268.6C1188.3 267.1 1193.8 265.4 1199.3 264.5C1204.7 263.5 1210.2 263.1 1215.7 262.8C1221.2 262.6 1226.6 262.8 1232.1 262.8C1237.6 262.8 1243 263 1248.5 262.8C1254 262.7 1259.5 262.3 1264.9 262C1270.4 261.7 1275.9 261.5 1281.4 261.2C1286.8 260.9 1292.3 260.9 1297.8 260.4C1303.3 259.8 1308.7 258.9 1314.2 257.9C1319.7 257 1325.4 255.7 1330.6 254.6C1335.8 253.5 1339.9 252.4 1345.4 251.3C1350.9 250.3 1360.5 268.2 1363.5 248.1C1366.5 227.9 1366.5 149.9 1363.5 130.4Z" fill="#960000" stroke="#2a0600" stroke-width="1.1" stroke-opacity="0.8" stroke-linejoin="round"/>
<path d="M1363.5 137.8C1360.5 119.8 1350.9 137.8 1345.4 138.6C1339.9 139.4 1335.8 141.3 1330.6 142.7C1325.4 144.1 1319.7 145.7 1314.2 146.8C1308.7 147.9 1303.3 148.9 1297.8 149.3C1292.3 149.7 1286.8 149.5 1281.4 149.3C1275.9 149 1270.4 148.4 1264.9 147.6C1259.5 146.8 1254 144.9 1248.5 144.3C1243 143.7 1237.6 144 1232.1 144C1226.6 144 1221.2 144.4 1215.7 144.3C1210.2 144.3 1204.7 143.8 1199.3 143.5C1193.8 143.2 1188.3 142.7 1182.8 142.7C1177.4 142.7 1171.9 143.2 1166.4 143.5C1160.9 143.8 1156 144.2 1150 144.3C1144 144.5 1137.7 144.2 1130.6 144.3C1123.6 144.5 1113.7 144.7 1107.6 145.2C1101.6 145.6 1098.9 146.1 1094.5 146.8C1090.1 147.5 1085.7 148.3 1081.4 149.3C1077 150.2 1072.6 151.5 1068.2 152.5C1063.8 153.6 1059.5 154.9 1055.1 155.8C1050.7 156.8 1046.3 157.6 1042 158.3C1037.6 159 1033.2 159.7 1028.8 159.9C1024.4 160.2 1020.1 159.7 1015.7 159.9C1011.3 160.2 1006.9 160.6 1002.5 161.6C998.2 162.5 993.8 164.2 989.4 165.7C985 167.2 980.7 168.8 976.3 170.6C971.9 172.4 967.5 174.2 963.1 176.4C958.8 178.5 952.7 181.6 950 183.7C947.3 185.9 948.8 187.1 946.9 189.3C945 191.4 941 193.9 938.7 196.7C936.3 199.4 934.7 202.5 932.9 205.7C931.1 208.8 929.2 212.2 928 215.5C926.8 218.8 926.1 223.5 925.9 225.4C925.6 227.2 925.3 225.7 926.4 226.6C927.4 227.4 929.5 229 932.1 230.7C934.7 232.3 938.7 234.2 942 236.4C945.2 238.6 948.5 241.2 951.8 243.8C955.1 246.4 958.6 249.3 961.7 252C964.7 254.8 967.1 257.7 969.9 260.2C972.6 262.8 975.3 265.3 978.1 267.3C980.8 269.3 983.3 270.7 986.3 272.2C989.3 273.7 993.9 275.5 996.1 276.2C998.4 276.8 996.6 275.4 1000 276C1003.4 276.7 1010.9 278.9 1016.4 280.1C1021.9 281.4 1027.4 282.6 1032.8 283.4C1038.3 284.2 1043.8 284.8 1049.3 285.1C1054.7 285.3 1060.2 285.2 1065.7 285.1C1071.2 284.9 1076.6 284.6 1082.1 284.2C1087.6 283.8 1093 283.3 1098.5 282.6C1104 281.9 1109.5 281.1 1114.9 280.1C1120.4 279.2 1125.9 277.8 1131.4 276.8C1136.8 275.9 1141.9 275.2 1147.8 274.4C1153.6 273.6 1160.6 273.1 1166.4 271.9C1172.3 270.7 1177.4 268.5 1182.8 267C1188.3 265.5 1193.8 263.8 1199.3 262.9C1204.7 261.9 1210.2 261.5 1215.7 261.2C1221.2 261 1226.6 261.2 1232.1 261.2C1237.6 261.2 1243 261.4 1248.5 261.2C1254 261.1 1259.5 260.7 1264.9 260.4C1270.4 260.1 1275.9 259.9 1281.4 259.6C1286.8 259.3 1292.3 259.3 1297.8 258.8C1303.3 258.2 1308.7 257.3 1314.2 256.3C1319.7 255.4 1325.4 254.1 1330.6 253C1335.8 251.9 1339.9 250.8 1345.4 249.7C1350.9 248.7 1360.5 265.1 1363.5 246.5C1366.5 227.8 1366.5 155.7 1363.5 137.8Z" fill="#7a0000" stroke="#2a0600" stroke-width="1.1" stroke-opacity="0.45" stroke-linejoin="round"/>
<path d="M1363.5 138.6C1360.5 121.6 1350.9 138.3 1345.4 139.4C1339.9 140.5 1335.8 143.1 1330.6 145.2C1325.4 147.2 1319.7 149.8 1314.2 151.7C1308.7 153.6 1303.3 155.4 1297.8 156.7C1292.3 157.9 1286.8 158.8 1281.4 159.1C1275.9 159.4 1270.4 159.1 1264.9 158.3C1259.5 157.5 1254 155.4 1248.5 154.5C1243 153.6 1237.6 152.9 1232.1 152.9C1226.6 152.8 1221.2 154.2 1215.7 154.2C1210.2 154.1 1204.7 153.4 1199.3 152.5C1193.8 151.7 1188.3 150.1 1182.8 149.3C1177.4 148.4 1171.9 147.6 1166.4 147.6C1160.9 147.6 1156 149 1150 149.3C1144 149.5 1136 149.3 1130.6 149.3C1125.2 149.3 1121.9 149.1 1117.5 149.3C1113.1 149.4 1108.7 149.7 1104.4 150.1C1100 150.5 1095.6 151 1091.2 151.7C1086.8 152.4 1082.5 153.2 1078.1 154.2C1073.7 155.1 1069.3 156.4 1064.9 157.5C1060.6 158.6 1056.2 159.8 1051.8 160.8C1047.4 161.7 1043 162.4 1038.7 163.2C1034.3 164 1029.9 164.9 1025.5 165.7C1021.2 166.5 1016.8 167.2 1012.4 168.1C1008 169.1 1003.6 170.1 999.3 171.4C994.9 172.8 990.5 174.6 986.1 176.4C981.7 178.1 977.4 180 973 182.1C968.6 184.2 963.7 186.6 959.9 188.7C956 190.7 952.7 191 950 194.4C947.3 197.8 945.3 204.9 943.6 209C941.8 213 940.3 216.1 939.5 218.8C938.7 221.6 938.7 224.1 938.7 225.4C938.7 226.7 937.8 225.6 939.5 226.6C941.1 227.6 945.4 229.6 948.5 231.5C951.7 233.4 955.4 235.6 958.4 238.1C961.4 240.5 963.8 243.5 966.6 246.3C969.3 249 971.8 252 974.8 254.5C977.8 256.9 981.4 259.1 984.6 261.1C987.9 263 991.9 265.5 994.5 266C997.1 266.4 996.3 263.1 1000 263.7C1003.7 264.2 1010.9 267.9 1016.4 269.4C1021.9 270.9 1027.4 271.9 1032.8 272.7C1038.3 273.5 1043.8 274.1 1049.3 274.3C1054.7 274.6 1060.2 274.5 1065.7 274.3C1071.2 274.2 1076.6 273.9 1082.1 273.5C1087.6 273.1 1093 272.6 1098.5 271.9C1104 271.2 1109.5 270.4 1114.9 269.4C1120.4 268.5 1125.9 267.2 1131.4 266.1C1136.8 265 1141.9 264.1 1147.8 262.8C1153.6 261.6 1160.6 260.1 1166.4 258.7C1172.3 257.4 1177.4 255.7 1182.8 254.6C1188.3 253.5 1193.8 252.7 1199.3 252.2C1204.7 251.6 1210.2 251.3 1215.7 251.3C1221.2 251.3 1226.6 252 1232.1 252.2C1237.6 252.3 1243 252.2 1248.5 252.2C1254 252.2 1259.5 252.2 1264.9 252.2C1270.4 252.2 1275.9 252.3 1281.4 252.2C1286.8 252 1292.3 251.8 1297.8 251.3C1303.3 250.9 1308.7 250.5 1314.2 249.7C1319.7 248.9 1325.4 247.4 1330.6 246.4C1335.8 245.5 1339.9 244.8 1345.4 244C1350.9 243.1 1360.5 259.1 1363.5 241.5C1366.5 223.9 1366.5 155.6 1363.5 138.6Z" fill="#400040" stroke="#2a0600" stroke-width="1.1" stroke-opacity="0.8" stroke-linejoin="round"/>
<path d="M1363.5 155C1360.5 141.6 1350.9 154.9 1345.4 155.8C1339.9 156.8 1335.8 158.8 1330.6 160.8C1325.4 162.7 1319.7 165.4 1314.2 167.3C1308.7 169.2 1303.3 171 1297.8 172.2C1292.3 173.5 1286.8 174.4 1281.4 174.7C1275.9 175 1270.4 174.5 1264.9 173.9C1259.5 173.3 1254 171.2 1248.5 170.9C1243 170.7 1237.6 171.8 1232.1 172.2C1226.6 172.7 1221.2 173.8 1215.7 173.9C1210.2 174 1204.7 173.9 1199.3 173.1C1193.8 172.2 1188.3 170.2 1182.8 169C1177.4 167.7 1171.9 166.2 1166.4 165.7C1160.9 165.1 1156 165.7 1150 165.7C1144 165.7 1136 165.8 1130.6 165.7C1125.2 165.5 1121.9 165 1117.5 164.9C1113.1 164.7 1108.7 164.6 1104.4 164.9C1100 165.1 1095.6 165.8 1091.2 166.5C1086.8 167.2 1082.5 168 1078.1 169C1073.7 169.9 1069.3 171.2 1064.9 172.2C1060.6 173.3 1056.2 174.4 1051.8 175.5C1047.4 176.6 1043 177.6 1038.7 178.8C1034.3 180 1029.9 181.4 1025.5 182.9C1021.2 184.4 1016.8 186.1 1012.4 187.8C1008 189.6 1003.4 191.6 999.3 193.6C995.2 195.6 988.8 198.8 987.8 200C986.7 201.2 992.8 199.3 992.9 200.8C992.9 202.2 989.3 206.2 987.9 209C986.6 211.7 985.3 214.4 984.6 217.2C984 219.9 984 223.8 983.8 225.4C983.7 227 983.4 224.7 983.8 226.6C984.2 228.4 984.8 233.4 986.3 236.4C987.8 239.4 990.6 243 992.9 244.6C995.1 246.3 996.1 244.8 1000 246.4C1003.9 248.1 1010.9 252.7 1016.4 254.6C1021.9 256.5 1027.4 257.2 1032.8 257.9C1038.3 258.6 1043.8 258.6 1049.3 258.7C1054.7 258.9 1060.2 258.9 1065.7 258.7C1071.2 258.6 1076.6 258.3 1082.1 257.9C1087.6 257.5 1093 257 1098.5 256.3C1104 255.6 1109.5 254.8 1114.9 253.8C1120.4 252.9 1125.9 251.8 1131.4 250.5C1136.8 249.3 1141.9 247.4 1147.8 246.4C1153.6 245.5 1160.6 246 1166.4 244.8C1172.3 243.5 1177.4 240.7 1182.8 239C1188.3 237.4 1194.3 235.7 1199.3 234.9C1204.2 234.1 1208.3 233.7 1212.4 234.1C1216.5 234.5 1220.1 236.3 1223.9 237.4C1227.7 238.5 1231.3 240 1235.4 240.7C1239.5 241.4 1243.6 241.4 1248.5 241.5C1253.4 241.6 1259.5 241.4 1264.9 241.5C1270.4 241.6 1275.9 242 1281.4 242.3C1286.8 242.6 1292.3 243 1297.8 243.1C1303.3 243.3 1308.7 243.4 1314.2 243.1C1319.7 242.9 1325.4 242.2 1330.6 241.5C1335.8 240.8 1339.9 239.9 1345.4 239C1350.9 238.2 1360.5 250.6 1363.5 236.6C1366.5 222.6 1366.5 168.5 1363.5 155Z" fill="#660066" stroke="#2a0600" stroke-width="1.1" stroke-opacity="0.8" stroke-linejoin="round"/>
<path d="M1031.9 217.8C1032.7 214.9 1035 211.6 1038.1 208.5C1041.2 205.3 1045.9 202 1050.6 199.1C1055.2 196.3 1060.4 193.7 1066.1 191.4C1071.8 189 1078.5 187.2 1084.7 185.2C1090.9 183.1 1097.1 180 1103.4 178.9C1109.6 177.9 1115.8 178.4 1122 178.9C1128.2 179.5 1134.4 181 1140.6 182.1C1146.8 183.1 1153 183.3 1159.3 185.2C1165.5 187 1172.7 190.1 1177.9 192.9C1183.1 195.8 1187.5 199.4 1190.3 202.2C1193.2 205.1 1195 207.4 1195 210C1195 212.6 1193.2 215.4 1190.3 217.8C1187.5 220.1 1182 221.9 1177.9 224C1173.8 226.1 1169.6 228.1 1165.5 230.2C1161.3 232.3 1157.2 234.9 1153 236.4C1148.9 238 1144.8 239.3 1140.6 239.5C1136.5 239.8 1132.3 237.7 1128.2 238C1124.1 238.2 1120.4 240.3 1115.8 241.1C1111.1 241.8 1105.4 242 1100.2 242.6C1095.1 243.2 1089.9 244.5 1084.7 244.5C1079.5 244.5 1074.4 243.7 1069.2 242.6C1064 241.5 1058.3 239.8 1053.7 238C1049 236.1 1044.6 233.8 1041.2 231.7C1037.9 229.7 1035 227.9 1033.5 225.5C1031.9 223.2 1031.1 220.6 1031.9 217.8Z" fill="#b8007a" stroke="#2a0600" stroke-width="1.1" stroke-opacity="0.8" stroke-linejoin="round"/>
<path d="M1246.2 216.2C1246.7 213.9 1254.5 210.8 1258.7 208.5C1262.8 206.1 1266.9 204.3 1271.1 202.2C1275.2 200.2 1279.9 198.6 1283.5 196C1287.1 193.4 1289.7 189.8 1292.8 186.7C1295.9 183.6 1298.5 180 1302.1 177.4C1305.8 174.8 1310.4 172.7 1314.6 171.2C1318.7 169.6 1322.8 168.1 1327 168.1C1331.1 168.1 1336.4 169.6 1339.4 171.2C1342.4 172.7 1341.9 175.8 1345 177.4C1348.1 178.9 1355.9 171.2 1358 180.5C1360.2 189.8 1360.2 224.5 1358 233.3C1355.9 242.1 1349.1 232.8 1345 233.3C1340.9 233.8 1337.8 236.1 1333.2 236.4C1328.6 236.7 1322.8 235.6 1317.7 234.9C1312.5 234.1 1307.3 232.5 1302.1 231.7C1297 231 1291.8 231 1286.6 230.2C1281.4 229.4 1276.3 228.4 1271.1 227.1C1265.9 225.8 1259.7 224.2 1255.5 222.4C1251.4 220.6 1245.7 218.5 1246.2 216.2Z" fill="#b8007a" stroke="#2a0600" stroke-width="1.1" stroke-opacity="0.8" stroke-linejoin="round"/>
<path d="M1299 208.5C1299 205.3 1300.6 202 1302.1 199.1C1303.7 196.3 1305.8 193.7 1308.3 191.4C1310.9 189 1314 186.7 1317.7 185.2C1321.3 183.6 1326.5 181.8 1330.1 182.1C1333.7 182.3 1337.3 183.9 1339.4 186.7C1341.5 189.6 1342.3 195 1342.5 199.1C1342.8 203.3 1342.3 207.9 1341 211.6C1339.7 215.2 1337.6 218.8 1334.7 220.9C1331.9 222.9 1327.8 223.7 1323.9 224C1320 224.2 1315.1 223.5 1311.5 222.4C1307.8 221.4 1304.2 220.1 1302.1 217.8C1300.1 215.4 1299 211.6 1299 208.5Z" fill="#e6007a" stroke="#2a0600" stroke-width="1.1" stroke-opacity="0.8" stroke-linejoin="round"/>
<path d="M1313 206.9C1312.7 205.9 1314.6 203.1 1316.1 202.2C1317.7 201.4 1320.5 201.1 1322.3 201.6C1324.1 202.1 1326.7 203.9 1327 205.3C1327.2 206.7 1325.4 209.5 1323.9 210C1322.3 210.5 1319.5 209 1317.7 208.5C1315.9 207.9 1313.3 207.9 1313 206.9Z" fill="#ff4da6" stroke="#2a0600" stroke-width="0.7" stroke-opacity="0.8" stroke-linejoin="round"/>
<path d="M924.3 398.2C924.5 396.2 926 393.7 928.3 392.6C930.7 391.4 935.2 390.9 938.4 391.2C941.5 391.4 946 392.7 947.4 394.2C948.7 395.7 948.2 398.3 946.4 400.2C944.5 402 939.5 404.5 936.4 405.2C933.2 405.9 929.3 405.4 927.3 404.2C925.3 403 924.2 400.1 924.3 398.2Z" fill="#ffbe00" stroke="#2a0600" stroke-width="1.1" stroke-opacity="0.8" stroke-linejoin="round"/>
<path d="M704 323.1C706.7 315.9 714.7 322.9 720 324.1C725.4 325.2 730.7 328.7 736 330.1C741.4 331.4 747.7 330.7 752.1 332.1C756.4 333.4 759.7 335.1 762.1 338.1C764.4 341.1 766.1 346.4 766.1 350.1C766.1 353.8 765.1 357.6 762.1 360.1C759.1 362.6 753.1 364.1 748.1 365.1C743 366.1 736.7 365.8 732 366.1C727.4 366.5 724.7 367 720 367.1C715.3 367.3 706.7 374.5 704 367.1C701.3 359.8 701.3 330.2 704 323.1Z" fill="#ff6a0c" stroke="#2a0600" stroke-width="1.1" stroke-opacity="0.8" stroke-linejoin="round"/>
<path d="M704 328.1C706.7 322.2 715.3 328.2 720 329.1C724.7 329.9 728 331.2 732 333.1C736 334.9 741 337.2 744.1 340.1C747.1 342.9 749.7 346.9 750.1 350.1C750.4 353.3 748.7 356.9 746.1 359.1C743.4 361.3 738.4 362.3 734 363.1C729.7 364 725 364 720 364.1C715 364.3 706.7 370.1 704 364.1C701.3 358.1 701.3 333.9 704 328.1Z" fill="#ff3c00" stroke="#2a0600" stroke-width="1.1" stroke-opacity="0.8" stroke-linejoin="round"/>
<path d="M704 330.1C706.7 325.9 716.6 329.7 720 331.1C723.4 332.4 723.4 335.2 724.4 338.1C725.5 340.9 726.6 345.4 726.4 348.1C726.3 350.8 724.7 352.8 723.6 354.1C722.6 355.4 723.3 355.8 720 356.1C716.7 356.4 706.7 360.4 704 356.1C701.3 351.8 701.3 334.2 704 330.1Z" fill="#dc0000" stroke="#2a0600" stroke-width="1.1" stroke-opacity="0.8" stroke-linejoin="round"/>
<path d="M850.2 384.2C852.7 379.8 856.6 369.5 860.2 368.1C863.9 366.8 868.2 373.5 872.3 376.1C876.3 378.8 880.6 381.5 884.3 384.2C887.9 386.8 892.1 388.8 894.3 392.2C896.5 395.5 896.8 399.8 897.3 404.2C897.8 408.5 906.1 415.9 897.3 418.2C888.4 420.5 852.9 422.2 844.2 418.2C835.5 414.2 844.2 399.8 845.2 394.2C846.2 388.5 847.7 388.5 850.2 384.2Z" fill="#ffbe00" stroke="#2a0600" stroke-width="1.1" stroke-opacity="0.8" stroke-linejoin="round"/>
<path d="M796.1 418.2C793.8 413.5 798.1 397.2 799.1 390.2C800.1 383.1 800.8 379.3 802.1 376.1C803.5 373 805.5 371.1 807.2 371.1C808.8 371.1 811 373.6 812.2 376.1C813.3 378.6 813.7 382.8 814.2 386.2C814.7 389.5 815.3 390.8 815.2 396.2C815 401.5 816.3 414.5 813.2 418.2C810 421.9 798.5 422.9 796.1 418.2Z" fill="#ffff99" stroke="#2a0600" stroke-width="1.1" stroke-opacity="0.8" stroke-linejoin="round"/>
<path d="M800.1 418.2C798.7 414.2 801.4 400.5 802.1 394.2C802.9 387.8 803.6 383.1 804.5 380.1C805.5 377.1 806.8 375.8 807.8 376.1C808.8 376.5 809.9 378.8 810.6 382.1C811.2 385.5 811.8 390.2 811.8 396.2C811.8 402.2 812.5 414.5 810.6 418.2C808.6 421.9 801.5 422.2 800.1 418.2Z" fill="#ffffff" stroke="#2a0600" stroke-width="1.1" stroke-opacity="0.8" stroke-linejoin="round"/>
<path d="M824.2 356.1C826 356.4 832.9 359.4 836.2 362.1C839.5 364.8 842.2 368.5 844.2 372.1C846.2 375.8 848.2 380.5 848.2 384.2C848.2 387.8 846.5 390.8 844.2 394.2C841.9 397.5 836.5 400.2 834.2 404.2C831.9 408.2 832.7 415.9 830.2 418.2C827.7 420.5 820.2 422.2 819.2 418.2C818.2 414.2 822.3 398.8 824.2 394.2C826 389.5 828.9 392.5 830.2 390.2C831.5 387.8 832.2 383.8 832.2 380.1C832.2 376.5 831.4 371.5 830.2 368.1C829 364.8 826.2 362.1 825.2 360.1C824.2 358.1 822.3 355.8 824.2 356.1Z" fill="#ffff99" stroke="#2a0600" stroke-width="1.1" stroke-opacity="0.8" stroke-linejoin="round"/>
<path d="M827.2 360.5C828.1 359.9 834.4 363.5 837.2 365.7C840 368 842.5 371.1 844.2 374.1C845.9 377.2 847.4 381.1 847.4 384.2C847.4 387.2 846.2 389.5 844.2 392.6C842.2 395.6 837.3 398.3 835.2 402.6C833.1 406.9 834.1 415.6 831.8 418.2C829.5 420.8 822.2 421.9 821.2 418.2C820.1 414.5 823.6 400.7 825.4 396.2C827.1 391.7 830.2 393.8 831.6 391.2C833 388.5 833.8 383.8 833.8 380.1C833.8 376.5 832.9 372.4 831.8 369.1C830.7 365.9 826.3 361.1 827.2 360.5Z" fill="#ffffff" stroke="#2a0600" stroke-width="0.6" stroke-opacity="0.8" stroke-linejoin="round"/>
<path d="M855.2 356.1C856.8 354.8 862.1 352.3 864.2 352.1C866.4 351.9 868.1 353.8 868.2 355.1C868.4 356.4 866.9 358.6 865.2 360.1C863.6 361.6 860 364.1 858.2 364.1C856.5 364.1 855.1 361.4 854.6 360.1C854.1 358.8 853.6 357.4 855.2 356.1Z" fill="#ffffff" stroke="#2a0600" stroke-width="1.1" stroke-opacity="0.8" stroke-linejoin="round"/>
<path d="M831.2 333.1C832 332.2 835.4 331.1 837.2 331.1C839 331.1 841.2 331.4 842.2 333.1C843.2 334.7 843.5 339.5 843.2 341.1C842.9 342.7 841 343.3 840.2 342.5C839.4 341.6 839.5 337.1 838.2 336.1C836.9 335 833.4 336.6 832.2 336.1C831 335.6 830.4 333.9 831.2 333.1Z" fill="#ffffff" stroke="#2a0600" stroke-width="1.1" stroke-opacity="0.8" stroke-linejoin="round"/>
<line x1="970.8" y1="80" x2="977" y2="408" stroke="#6a2a00" stroke-width="1" stroke-opacity="0.5"/>
<path d="M768.8 213.1C774.9 214.1 791.4 217.5 805.2 219.3C819 221.1 836.2 222.8 851.8 224C867.3 225.2 880.2 226.2 898.4 226.5C916.5 226.7 939.8 226.4 960.5 225.5C981.2 224.7 1001.9 223.6 1022.6 221.5C1043.3 219.4 1064 216.6 1084.7 213.1C1105.4 209.6 1126.1 205.6 1146.8 200.7C1167.5 195.8 1188.2 189.8 1209 183.6C1229.7 177.4 1248.4 170.9 1271.1 163.4C1293.7 155.9 1332.7 142.7 1345 138.6 L1345 262.1 L1345 262.1C1332.7 267 1293.7 283 1271.1 291.6C1248.4 300.1 1229.7 307.1 1209 313.3C1188.2 319.5 1167.5 324.5 1146.8 328.9C1126.1 333.3 1105.4 336.6 1084.7 339.7C1064 342.8 1043.3 345.7 1022.6 347.5C1001.9 349.3 981.2 350.2 960.5 350.6C939.8 351 916.5 350.5 898.4 350C880.2 349.5 867.3 348.7 851.8 347.5C836.2 346.3 819 344.7 805.2 342.8C791.4 341 774.9 337.7 768.8 336.6Z" fill="none" stroke="#000" stroke-width="3.9" stroke-linejoin="miter"/>
<path d="M716.9 84.9C719.1 85.3 726.2 86.2 730.1 87C733.9 87.9 737.7 88.5 739.9 89.8C742.1 91.2 741.3 94.1 743.2 95.2C745.1 96.3 748.7 96 751.4 96.4C754.1 96.7 757.5 95.8 759.6 97.4C761.8 99 763 102.8 764.2 105.9C765.4 109 766.1 112.2 766.7 115.8C767.3 119.3 767.1 123.2 767.8 127.3C768.6 131.4 769.9 136.3 771.1 140.4C772.3 144.5 774 148.8 775.2 151.9C776.4 155 777.1 157.9 778.5 158.8C779.9 159.7 782.1 159.1 783.4 157.1C784.8 155.2 786 150.6 786.7 147C787.4 143.4 787.8 139.9 787.5 135.5C787.3 131.1 786.3 125.9 785.4 120.7C784.5 115.5 783.1 110.3 782.1 104.3C781.1 98.3 779.8 87.9 779.3 84.6" fill="none" stroke="#000" stroke-width="6.0" stroke-linejoin="round" stroke-linecap="round"/>
<path d="M800.6 141.6 L810.6 142.6" fill="none" stroke="#000" stroke-width="6.4" stroke-linejoin="round" stroke-linecap="round"/>
<path d="M813.2 146.3 L816.3 155.2" fill="none" stroke="#000" stroke-width="6.4" stroke-linejoin="round" stroke-linecap="round"/>
<path d="M819 158.9 L821.6 166.3" fill="none" stroke="#000" stroke-width="6.4" stroke-linejoin="round" stroke-linecap="round"/>
<path d="M823.7 169.9 L826.8 178.3" fill="none" stroke="#000" stroke-width="6.4" stroke-linejoin="round" stroke-linecap="round"/>
<path d="M828.9 182 L831 187.3" fill="none" stroke="#000" stroke-width="6.4" stroke-linejoin="round" stroke-linecap="round"/>
<path d="M834.7 192 L841.6 197.3" fill="none" stroke="#000" stroke-width="6.4" stroke-linejoin="round" stroke-linecap="round"/>
<path d="M802.4 159.4C802.8 161.1 803.8 166.3 804.5 169.4C805.3 172.6 806.5 176.9 806.9 178.3" fill="none" stroke="#000" stroke-width="9.5" stroke-linejoin="round" stroke-linecap="round"/>
<path d="M844.2 209.9 L846.8 215.7" fill="none" stroke="#000" stroke-width="6" stroke-linejoin="round" stroke-linecap="round"/>
<path d="M738.8 189.4C738.4 188 742.5 184.4 745.4 182.8C748.2 181.2 752.4 180.1 755.9 179.7C759.4 179.2 762.9 179 766.4 180.2C769.9 181.3 773.4 184.3 776.9 186.5C780.4 188.6 783.9 190.9 787.4 193.1C790.9 195.2 794.4 197.2 797.9 199.6C801.4 202 804.9 205.1 808.5 207.5C812 209.9 815.5 212.1 819 214.1C822.5 216 825.9 217.9 829.5 219.3C833.1 220.7 840.4 221.7 840.5 222.5C840.6 223.3 834 224.1 830 224.1C826 224 820.4 223.3 816.3 222C812.3 220.6 809.3 218.3 805.8 216.2C802.3 214.1 798.8 211.8 795.3 209.3C791.8 206.9 788.3 203.9 784.8 201.5C781.3 199.1 777.8 196.6 774.3 194.9C770.8 193.1 767.1 191 763.8 191C760.5 190.9 757 194.6 754.3 194.6C751.7 194.6 750.6 191.8 748 191C745.4 190.1 739.3 190.7 738.8 189.4Z" fill="none" stroke="#000" stroke-width="6.6" stroke-linejoin="round" stroke-linecap="round"/>
<path d="M801.9 222C804.3 222.2 811.3 223.2 816.3 223.5C821.4 223.9 829.5 224 832.1 224.1" fill="none" stroke="#000" stroke-width="7" stroke-linejoin="round" stroke-linecap="round"/>
<ellipse cx="753.8" cy="196.2" rx="4" ry="4" fill="#000"/>
<path d="M794.5 241.9C794.8 240.3 798.3 238.5 801.1 238.5C803.9 238.5 808.8 240.5 811.1 241.9C813.4 243.3 815.2 245.7 814.8 246.9C814.3 248.2 811 249.3 808.5 249.5C805.9 249.8 801.8 249.5 799.5 248.2C797.2 247 794.3 243.5 794.5 241.9Z" fill="#000" stroke="#000" stroke-width="4" stroke-linejoin="round"/>
<path d="M842.6 226.2C844.1 226.1 849.6 228.2 853.1 228.8C856.6 229.4 860.1 229.4 863.6 229.8C867.1 230.3 871.1 230.5 874.1 231.4C877.2 232.3 879.4 233.4 882 235.1C884.6 236.8 888.4 239.5 889.9 241.7C891.4 243.9 892.1 246.9 891.2 248.2C890.3 249.5 887.1 250 884.6 249.5C882.2 249.1 879.4 245.8 876.8 245.6C874.1 245.4 871.3 246.7 868.9 248.2C866.5 249.8 864.3 254.4 862.3 254.8C860.3 255.2 859 252.4 857.1 250.9C855.1 249.3 852.9 246.3 850.5 245.6C848.1 245 845.2 246.9 842.6 246.9C840 246.9 836.5 246.5 834.7 245.6C833 244.7 831.7 242.8 832.1 241.7C832.5 240.6 834.9 239.3 837.4 239C839.8 238.8 844.6 241.2 846.5 240.4C848.5 239.5 849.6 235.6 849.2 233.8C848.7 231.9 845 230.6 843.9 229.3C842.8 228 841.1 226.3 842.6 226.2Z" fill="none" stroke="#000" stroke-width="7.6" stroke-linejoin="round"/>
<path d="M902.5 247.2C903.8 246.2 908.3 245.3 910.9 245.3C913.5 245.3 917.2 246.2 918.3 247.2C919.4 248.2 918.9 250.4 917.5 251.4C916 252.4 912 253 909.6 253C907.2 253 904.2 252.4 903 251.4C901.9 250.4 901.2 248.2 902.5 247.2Z" fill="#000" stroke="#000" stroke-width="3.5" stroke-linejoin="round"/>
<ellipse cx="959.5" cy="272.1" rx="4.4" ry="4.4" fill="#000"/>
<ellipse cx="965" cy="287.9" rx="4.2" ry="4.2" fill="#000"/>
<path d="M720 257.9C721 258.3 723.7 258.6 726 260C728.4 261.3 732.2 263 734 266C735.9 269 736.7 274 737 278C737.4 282 736.6 286 736 290C735.5 294 734.5 297.7 733.6 302C732.8 306.4 731 311.7 731 316C731.1 320.4 732.5 324.4 734 328.1C735.5 331.7 737.5 335 740 338.1C742.5 341.1 746.6 344.5 749.1 346.5C751.6 348.5 752.9 349.8 755.1 350.1C757.2 350.4 759.6 349.4 762.1 348.1C764.6 346.8 767.7 343.4 770.1 342.5C772.5 341.5 774.5 341.2 776.5 342.5C778.5 343.8 780.2 347.5 782.1 350.1C784 352.7 786.3 354.1 787.7 358.1C789.2 362.1 790.2 368.8 790.7 374.1C791.3 379.5 791.1 384.5 791.1 390.2C791.1 395.8 790.8 405.2 790.7 408.2" fill="none" stroke="#000" stroke-width="6.3" stroke-linejoin="round" stroke-linecap="round"/>
<path d="M718 333.1C718.7 333.9 720.3 335.7 722 338.1C723.7 340.4 725.7 344.7 728 347.1C730.4 349.5 732.7 350.9 736 352.5C739.4 354.1 745 354.5 748.1 356.5C751.1 358.5 752.5 362.8 754.5 364.5C756.5 366.2 758.2 367.5 760.1 366.5C761.9 365.5 763.7 361.2 765.7 358.5C767.7 355.8 771 351.5 772.1 350.1" fill="none" stroke="#000" stroke-width="6.3" stroke-linejoin="round" stroke-linecap="round"/>
<path d="M790.7 349.1C792.1 351.9 796.6 365.6 799.1 365.7C801.7 365.9 803.6 355.4 806.2 350.1C808.7 344.8 811.2 337.3 814.2 333.7C817.2 330.1 820.5 329.5 824.2 328.5C827.9 327.4 831.9 328.7 836.2 327.3C840.5 325.9 846.5 321.8 850.2 320C853.9 318.3 856.4 316.5 858.2 317C860.1 317.5 861.7 320.9 861.4 323.1C861.2 325.2 857.7 326.9 856.6 330.1C855.6 333.2 855.2 338 855.2 342.1C855.2 346.2 855.6 353.2 856.6 354.5C857.6 355.8 859.6 353.2 861.2 350.1C862.8 347 864.4 341.1 866.2 336.1C868.1 331.1 870.3 321.7 872.3 320C874.3 318.4 875.6 323.7 878.3 326.5C880.9 329.2 884.3 334.3 888.3 336.5C892.3 338.6 897.6 338.5 902.3 339.3C907 340.1 911.3 340.6 916.3 341.3C921.3 341.9 928 343.8 932.4 343.3C936.7 342.8 937.4 339.5 942.4 338.5C947.4 337.5 958 336.3 962.4 337.3C966.8 338.3 967.7 340.6 968.8 344.5C969.9 348.4 968.2 357.2 968.8 360.5C969.4 363.9 971.8 363.9 972.4 364.5" fill="none" stroke="#000" stroke-width="6.3" stroke-linejoin="round" stroke-linecap="round"/>
<path d="M972.3 360.5C973.9 362 979 366.2 982.2 369.2C985.4 372.2 987.9 375.7 991.5 378.6C995.2 381.4 999.3 384.3 1004 386.3C1008.6 388.4 1013.8 390.2 1019.5 391C1025.2 391.8 1032.4 390.2 1038.1 391C1043.8 391.8 1048.7 393.7 1053.7 395.6C1058.6 397.6 1064 400.5 1067.6 402.8C1071.3 405.1 1074.1 408.5 1075.4 409.6" fill="none" stroke="#000" stroke-width="6.3" stroke-linejoin="round" stroke-linecap="round"/>
<text x="738.5" y="143.9" font-size="50" fill="#000" font-weight="bold" stroke="#000" stroke-width="1.3" stroke-linejoin="round" textLength="28.0" lengthAdjust="spacingAndGlyphs">B</text>
<text x="766.5" y="143.9" font-size="50" fill="#000" font-weight="bold" stroke="#000" stroke-width="1.3" stroke-linejoin="round" textLength="12.5" lengthAdjust="spacingAndGlyphs">)</text>
</g>
<path fill="#25282b" fill-rule="evenodd" d="M712 78H1354V412H712ZM720 84H1345V405H720Z"/>
<g clip-path="url(#clipC)">
<rect x="1382" y="70" width="662" height="350" fill="#fff000"/>
<path d="M1382 70C1492.5 16.7 1935.2 25.6 2044 70C2152.8 114.4 2038.6 291.9 2035 336.6C2031.5 381.3 2025.5 336.9 2022.9 338.2C2020.3 339.5 2021.1 341.8 2019.5 344.4C2017.9 347 2015.9 350.1 2013.3 353.7C2010.7 357.3 2007.6 362.5 2004 366.1C2000.4 369.8 1996.7 372.9 1991.6 375.5C1986.4 378 1980.2 380.1 1972.9 381.7C1965.7 383.2 1957.4 384 1948.1 384.8C1938.8 385.5 1927.4 385.7 1917 386.3C1906.7 386.9 1896.3 387.8 1886 388.5C1875.6 389.2 1865.2 390.2 1854.9 390.4C1844.5 390.5 1834.2 389.8 1823.8 389.4C1813.5 389 1802.1 388.5 1792.8 387.9C1783.5 387.2 1775.2 386.2 1767.9 385.4C1760.7 384.6 1755.5 384.1 1749.3 383.2C1743.1 382.3 1735.8 381.4 1730.7 380.1C1725.5 378.8 1722.4 377.3 1718.2 375.5C1714.1 373.6 1711 371.3 1705.8 369.2C1700.6 367.2 1693.4 364.8 1687.2 363C1681 361.2 1674.2 360.2 1668.5 358.4C1662.8 356.6 1657.1 355 1653 352.2C1648.9 349.3 1646.8 344.1 1643.7 341.3C1640.6 338.4 1639.5 337.2 1634.4 335.1C1629.2 332.9 1620.4 329.7 1612.6 328.2C1604.9 326.8 1596.1 327 1587.8 326.4C1579.5 325.7 1569.1 325.3 1562.9 324.2C1556.7 323.1 1555.2 321.6 1550.5 319.5C1545.9 317.5 1539.6 314.1 1535 311.8C1530.3 309.4 1527.2 306.3 1522.6 305.6C1517.9 304.8 1511.2 306.1 1507 307.1C1502.9 308.2 1499.5 309.7 1497.7 311.8C1495.9 313.8 1497.2 316.7 1496.2 319.5C1495.1 322.4 1493.8 326 1491.5 328.9C1489.2 331.7 1485 333.5 1482.2 336.6C1479.3 339.7 1476.8 343.6 1474.4 347.5C1472.1 351.4 1469.5 355.7 1468.1 360.1C1466.7 364.6 1466.8 370.1 1466.1 374.1C1465.5 378.1 1466 381.7 1464.1 384.2C1462.3 386.6 1460.9 387.4 1455.1 388.6C1449.3 389.7 1438.7 391 1429.1 391.2C1419.4 391.4 1405 390 1397 389.8C1389 389.5 1383.5 443.1 1381 389.8C1378.5 336.5 1271.5 123.3 1382 70Z" fill="#ffbe00" stroke="#2a0600" stroke-width="1.1" stroke-opacity="0.8" stroke-linejoin="round"/>
<path d="M1382 70C1492.5 18.7 1935.2 41.2 2044 70C2152.8 98.8 2038.6 214.4 2035 242.6C2031.5 270.9 2026.6 241.6 2022.9 239.5C2019.3 237.4 2015.4 233.8 2013.3 230.2C2011.2 226.6 2011.5 221.4 2010.2 217.8C2008.9 214.1 2007.1 208.5 2005.5 208.5C2004 208.5 2002.7 215.2 2000.9 217.8C1999.1 220.4 1996.5 224.5 1994.7 224C1992.9 223.5 1991.6 214.7 1990 214.7C1988.5 214.7 1987.2 220.9 1985.3 224C1983.5 227.1 1981 230.5 1979.1 233.3C1977.3 236.1 1975.2 239.1 1974.2 241.1C1973.1 243 1973.6 242.8 1972.9 245C1972.2 247.2 1971.4 251.2 1969.8 254.3C1968.3 257.4 1965.7 260.8 1963.6 263.6C1961.5 266.5 1959.2 269.3 1957.4 271.4C1955.6 273.5 1953.8 273.7 1952.7 276.1C1951.7 278.4 1950.9 282.3 1951.2 285.4C1951.4 288.5 1953 291.8 1954.3 294.7C1955.6 297.5 1957.7 299.6 1958.9 302.5C1960.2 305.3 1962.8 308.9 1962.1 311.8C1961.3 314.6 1957.1 317.2 1954.3 319.5C1951.4 321.9 1948.1 323.7 1945 325.8C1941.9 327.8 1939.3 330.2 1935.7 332C1932 333.8 1927.4 335.1 1923.2 336.6C1919.1 338.2 1914.9 340 1910.8 341.3C1906.7 342.6 1902.5 343.6 1898.4 344.4C1894.2 345.2 1890.1 346.2 1886 345.9C1881.8 345.7 1878.7 343.6 1873.5 342.8C1868.4 342.1 1861.1 341.1 1854.9 341.3C1848.7 341.4 1842.5 343.3 1836.3 343.8C1830 344.3 1823.8 344.5 1817.6 344.4C1811.4 344.2 1804.7 342.8 1799 342.8C1793.3 342.8 1788.6 344.7 1783.5 344.4C1778.3 344.1 1773.6 342.6 1767.9 341.3C1762.2 340 1755.5 338.4 1749.3 336.6C1743.1 334.8 1736.9 332.2 1730.7 330.4C1724.4 328.6 1719.3 327.3 1712 325.8C1704.8 324.2 1694.4 322.4 1687.2 321.1C1679.9 319.8 1674.7 319 1668.5 318C1662.3 317 1656.1 316.2 1649.9 314.9C1643.7 313.6 1637.5 312 1631.3 310.2C1625.1 308.4 1618.8 306.1 1612.6 304C1606.4 301.9 1600.2 299.6 1594 297.8C1587.8 296 1581.6 294.2 1575.4 293.1C1569.1 292.1 1562.9 292.6 1556.7 291.6C1550.5 290.6 1544.3 288.7 1538.1 286.9C1531.9 285.1 1526.2 282.3 1519.5 280.7C1512.7 279.2 1503.9 277.9 1497.7 277.6C1491.5 277.4 1487.4 279.4 1482.2 279.2C1477 278.9 1472.3 277.4 1466.6 276.1C1461 274.8 1455.2 268.1 1448 271.4C1440.8 274.7 1426.8 290.7 1423.5 295.8C1420.2 300.8 1426.3 299.6 1428.4 301.7C1430.5 303.8 1434 306 1436.3 308.6C1438.6 311.2 1440.2 314.7 1442.2 317.5C1444.2 320.3 1446.1 323.2 1448.1 325.3C1450.1 327.4 1453.1 327.9 1454.1 330.1C1455.1 332.2 1453.9 334.7 1454.1 338.1C1454.3 341.4 1454.8 346.1 1455.1 350.1C1455.4 354.1 1457.1 358.8 1456.1 362.1C1455.1 365.5 1453.6 367.8 1449.1 370.1C1444.6 372.5 1435.7 374.8 1429.1 376.1C1422.4 377.5 1414.4 377.9 1409 378.1C1403.7 378.4 1401.7 377.6 1397 377.5C1392.3 377.4 1383.5 428.8 1381 377.5C1378.5 326.3 1271.5 121.3 1382 70Z" fill="#ff9c00" stroke="#2a0600" stroke-width="1.1" stroke-opacity="0.8" stroke-linejoin="round"/>
<path d="M1382 70C1492.9 58.6 1935.2 56.1 2044 70C2152.8 83.9 2038.6 139.1 2035 153.2C2031.5 167.2 2027.1 153.7 2022.9 154.4C2018.8 155.1 2014.4 156.6 2010.2 157.5C2006 158.4 2001.9 158.8 1997.8 160C1993.6 161.2 1989.5 163.5 1985.3 165C1981.2 166.4 1977.1 167.3 1972.9 168.7C1968.8 170 1964.6 171.3 1960.5 173C1956.4 174.8 1952.2 177.4 1948.1 178.9C1943.9 180.4 1938.8 180.8 1935.7 182.1C1932.5 183.3 1931.3 184.6 1929.4 186.7C1927.6 188.8 1925 192.1 1924.8 194.5C1924.5 196.8 1928.7 198.9 1927.9 200.7C1927.1 202.5 1922.5 203.5 1920.1 205.3C1917.8 207.2 1916.5 209.7 1913.9 211.6C1911.3 213.4 1907.2 214.1 1904.6 216.2C1902 218.3 1900.5 221.9 1898.4 224C1896.3 226.1 1894.2 226.6 1892.2 228.6C1890.1 230.7 1886.5 233.7 1886 236.4C1885.4 239.1 1889.1 242 1889.1 245C1889.1 248 1887 251.2 1886 254.3C1884.9 257.4 1884.4 260.5 1882.9 263.6C1881.3 266.7 1879.2 269.8 1876.6 273C1874 276.1 1870.4 279.2 1867.3 282.3C1864.2 285.4 1861.1 289 1858 291.6C1854.9 294.2 1851.8 296 1848.7 297.8C1845.6 299.6 1843.5 301.4 1839.4 302.5C1835.2 303.5 1829.5 303.5 1823.8 304C1818.1 304.5 1808.6 303.8 1805.2 305.6C1801.8 307.4 1805.7 313.1 1803.6 314.9C1801.6 316.7 1796.7 317 1792.8 316.4C1788.9 315.9 1785.5 313.1 1780.4 311.8C1775.2 310.5 1767.9 308.7 1761.7 308.7C1755.5 308.7 1749.3 311.8 1743.1 311.8C1736.9 311.8 1731.7 310 1724.4 308.7C1717.2 307.4 1707.9 305.6 1699.6 304C1691.3 302.5 1682 300.9 1674.7 299.4C1667.5 297.8 1662.3 296.5 1656.1 294.7C1649.9 292.9 1643.7 291.1 1637.5 288.5C1631.3 285.9 1625.1 282.3 1618.8 279.2C1612.6 276.1 1606.4 272.4 1600.2 269.8C1594 267.3 1587.8 265.4 1581.6 263.6C1575.4 261.8 1569.1 260.5 1562.9 259C1556.7 257.4 1546.1 255.1 1544.3 254.3C1542.5 253.6 1548.9 255 1551.9 254.5C1554.9 254 1559.3 253.2 1562.4 251.4C1565.5 249.5 1569.4 246.6 1570.3 243.5C1571.2 240.4 1569.9 236 1567.7 233C1565.5 229.9 1561.1 227.2 1557.2 225.1C1553.2 223 1548.4 222.6 1544 220.4C1539.6 218.2 1534.8 214.8 1530.9 212C1526.9 209.2 1523.2 205.7 1520.4 203.6C1517.5 201.4 1516.9 200.4 1513.8 198.8C1510.7 197.2 1506.1 195.8 1502 194.1C1497.8 192.4 1492.3 190.5 1488.8 188.8C1485.3 187.2 1482.9 185.8 1481 184.4C1479 183 1477.9 183.3 1477 180.4C1476.1 177.6 1476.1 173 1475.7 167.3C1475.3 161.6 1475.7 149.6 1474.4 146.3C1473.1 143 1470 146.3 1467.8 147.6C1465.6 148.9 1462.7 151.7 1461.3 154.2C1459.9 156.6 1459.6 159 1459.4 162C1459.2 165.1 1460.7 170.1 1459.9 172.5C1459.2 175 1456.7 177.1 1454.7 176.5C1452.7 175.8 1449.6 171.5 1448.1 168.6C1446.6 165.8 1446.4 162.3 1445.5 159.4C1444.6 156.6 1444.2 152 1442.9 151.5C1441.5 151.1 1440 155 1437.6 156.8C1435.2 158.5 1432.1 162 1428.4 162C1424.7 162 1419.2 158.8 1415.3 156.8C1411.3 154.8 1407.6 153.1 1404.8 150.2C1401.9 147.4 1402.6 141.7 1398.2 139.7C1393.8 137.7 1381.2 150 1378.5 138.4C1375.8 126.8 1271.1 81.4 1382 70Z" fill="#ff6a0c" stroke="#2a0600" stroke-width="1.1" stroke-opacity="0.8" stroke-linejoin="round"/>
<path d="M1851.8 68.7C1833.2 71.2 1852.3 79.8 1853.3 83.9C1854.4 88 1855.7 90.6 1858 93.5C1860.3 96.4 1864.2 99 1867.3 101.3C1870.4 103.6 1873 106.2 1876.6 107.5C1880.3 108.8 1885.4 109.8 1889.1 109.1C1892.7 108.3 1894.8 104.4 1898.4 102.8C1902 101.3 1906.7 101 1910.8 99.7C1914.9 98.4 1918.6 96.1 1923.2 95.1C1927.9 94 1933.6 94.3 1938.8 93.5C1943.9 92.8 1950.1 92 1954.3 90.4C1958.4 88.8 1961.8 87.5 1963.6 83.9C1965.4 80.3 1983.8 71.2 1965.2 68.7C1946.5 66.1 1870.4 66.1 1851.8 68.7Z" fill="#ff9c00" stroke="#2a0600" stroke-width="1.1" stroke-opacity="0.8" stroke-linejoin="round"/>
<path d="M1774.1 99.7C1774.7 97.7 1777.8 95.1 1780.4 93.5C1782.9 92 1786.8 90.2 1789.7 90.4C1792.5 90.7 1795.4 92.5 1797.4 95.1C1799.5 97.7 1800.8 102.3 1802.1 106C1803.4 109.6 1805.7 114.2 1805.2 116.8C1804.7 119.4 1801.1 121.7 1799 121.5C1796.9 121.2 1794.8 117.3 1792.8 115.3C1790.7 113.2 1788.4 109.8 1786.6 109.1C1784.8 108.3 1783.5 111.1 1781.9 110.6C1780.4 110.1 1778.5 107.8 1777.2 106C1776 104.1 1773.6 101.8 1774.1 99.7Z" fill="#ff9c00" stroke="#2a0600" stroke-width="1.1" stroke-opacity="0.8" stroke-linejoin="round"/>
<path d="M1595.5 245.1C1594 243.2 1595.8 236.3 1597.1 233.3C1598.4 230.3 1601.2 228.9 1603.3 227.1C1605.4 225.3 1608 224.5 1609.5 222.4C1611.1 220.4 1611.1 217.3 1612.6 214.7C1614.2 212.1 1617 208.7 1618.8 206.9C1620.7 205.1 1622.5 203 1623.5 203.8C1624.5 204.6 1623.2 209.7 1625.1 211.6C1626.9 213.4 1631.3 214.7 1634.4 214.7C1637.5 214.7 1640.6 213.1 1643.7 211.6C1646.8 210 1649.9 206.6 1653 205.3C1656.1 204.1 1659.7 203.5 1662.3 203.8C1664.9 204.1 1666.5 207.7 1668.5 206.9C1670.6 206.1 1672.4 201.5 1674.7 199.1C1677.1 196.8 1679.9 195 1682.5 192.9C1685.1 190.9 1688.2 188.8 1690.3 186.7C1692.4 184.6 1692.9 182.3 1694.9 180.5C1697 178.7 1700.4 177.7 1702.7 175.8C1705 174 1707.4 172.2 1708.9 169.6C1710.5 167 1710.5 163.4 1712 160.3C1713.6 157.2 1716.2 153.1 1718.2 151C1720.3 148.9 1722.4 147.6 1724.4 147.9C1726.5 148.1 1728.8 150.5 1730.7 152.5C1732.5 154.6 1733.2 158 1735.3 160.3C1737.4 162.6 1740.2 165 1743.1 166.5C1745.9 168.1 1749.3 169.4 1752.4 169.6C1755.5 169.9 1758.6 169.1 1761.7 168.1C1764.8 167 1767.9 163.7 1771 163.4C1774.1 163.2 1777.2 165.2 1780.4 166.5C1783.5 167.8 1786.6 170.1 1789.7 171.2C1792.8 172.2 1796.1 173.2 1799 172.7C1801.8 172.2 1804.4 169.9 1806.8 168.1C1809.1 166.3 1810.6 163.3 1813 161.9C1815.3 160.4 1818.1 159.1 1820.7 159.4C1823.3 159.6 1826.4 161.4 1828.5 163.4C1830.6 165.4 1832.6 167.8 1833.2 171.2C1833.7 174.5 1832.1 179.5 1831.6 183.6C1831.1 187.7 1831.3 192.4 1830 196C1828.8 199.7 1826.4 202.8 1823.8 205.3C1821.2 207.9 1817.4 209.7 1814.5 211.6C1811.7 213.4 1808.8 213.9 1806.8 216.2C1804.7 218.5 1802.6 222.2 1802.1 225.5C1801.6 228.9 1804.7 233.2 1803.6 236.4C1802.6 239.6 1797.7 242.3 1795.9 245C1794.1 247.7 1793.8 249.9 1792.8 252.8C1791.7 255.6 1791.2 259.8 1789.7 262.1C1788.1 264.4 1786 266.2 1783.5 266.7C1780.9 267.3 1776.2 263.6 1774.1 265.2C1772.1 266.7 1773.1 273.2 1771 276.1C1769 278.9 1765.9 280.7 1761.7 282.3C1757.6 283.8 1750.3 283.8 1746.2 285.4C1742 286.9 1738.9 291.3 1736.9 291.6C1734.8 291.8 1735.8 288 1733.8 286.9C1731.7 285.9 1728.1 284.9 1724.4 285.4C1720.8 285.9 1716.2 289 1712 290C1707.9 291.1 1704.8 292.1 1699.6 291.6C1694.4 291.1 1687.2 288.2 1681 286.9C1674.7 285.6 1668 285.1 1662.3 283.8C1656.6 282.5 1652 281 1646.8 279.2C1641.6 277.4 1635.9 275.5 1631.3 273C1626.6 270.4 1622.5 266.7 1618.8 263.6C1615.2 260.5 1611.6 257.4 1609.5 254.3C1607.5 251.2 1608.7 246.5 1606.4 245C1604.1 243.5 1597.1 247.1 1595.5 245.1Z" fill="#ff3c00" stroke="#2a0600" stroke-width="1.1" stroke-opacity="0.8" stroke-linejoin="round"/>
<path d="M1700.5 249.7C1701.2 247.7 1702.3 247.2 1703.3 247.5C1704.3 247.7 1705.8 248.5 1706.4 251.2C1707.1 253.9 1707.3 260.3 1707.1 263.6C1706.8 267 1706.1 270.4 1705.2 271.4C1704.3 272.4 1702.4 271.9 1701.5 269.8C1700.5 267.8 1699.8 262.3 1699.6 259C1699.4 255.6 1699.9 251.6 1700.5 249.7Z" fill="#dc0000" stroke="#2a0600" stroke-width="1.1" stroke-opacity="0.8" stroke-linejoin="round"/>
<path d="M1718.2 255.9C1718.2 255.1 1719.4 253.7 1720.1 253.7C1720.8 253.7 1722.3 255.1 1722.3 255.9C1722.3 256.6 1720.8 258 1720.1 258C1719.4 258 1718.2 256.6 1718.2 255.9Z" fill="#dc0000" stroke="#2a0600" stroke-width="1.1" stroke-opacity="0.8" stroke-linejoin="round"/>
<path d="M2035 98.2C2033 95.7 2026 98.4 2022.9 99.7C2019.8 101 2019 104.1 2016.4 106C2013.8 107.8 2009.4 108.5 2007.1 110.6C2004.8 112.7 2002.7 116 2002.4 118.4C2002.2 120.7 2003.7 123.6 2005.5 124.6C2007.3 125.6 2011 125.6 2013.3 124.6C2015.6 123.6 2017.9 119.9 2019.5 118.4C2021.1 116.8 2020.3 115.9 2022.9 115.3C2025.5 114.7 2033 117.5 2035 114.7C2037.1 111.8 2037.1 100.7 2035 98.2Z" fill="#ff3c00" stroke="#2a0600" stroke-width="1.1" stroke-opacity="0.8" stroke-linejoin="round"/>
<path d="M1376.6 68.7C1324 74.4 1373.2 97.2 1376.6 102.8C1380 108.5 1391.9 102.6 1397.1 102.8C1402.3 103.1 1403.8 104.7 1407.6 104.4C1411.5 104.1 1415.9 102.1 1420.1 101.3C1424.2 100.5 1427.3 99 1432.5 99.7C1437.7 100.5 1445.4 103.6 1451.1 106C1456.8 108.3 1462.5 111.9 1466.6 113.7C1470.8 115.5 1471.8 115.5 1476 116.8C1480.1 118.1 1486.8 121.2 1491.5 121.5C1496.2 121.7 1499.3 119.4 1503.9 118.4C1508.6 117.3 1514.3 115.5 1519.5 115.3C1524.6 115 1529.8 115.8 1535 116.8C1540.2 117.9 1545.3 121.2 1550.5 121.5C1555.7 121.7 1561.4 119.2 1566 118.4C1570.7 117.6 1574.8 117.9 1578.5 116.8C1582.1 115.8 1584.2 113.5 1587.8 112.2C1591.4 110.9 1596.1 110.1 1600.2 109.1C1604.3 108 1608.5 107.2 1612.6 106C1616.8 104.7 1620.9 102.6 1625.1 101.3C1629.2 100 1632.8 99.2 1637.5 98.2C1642.1 97.2 1647.8 96.4 1653 95.1C1658.2 93.8 1663.9 91.7 1668.5 90.4C1673.2 89.1 1677.3 88.4 1681 87.3C1684.6 86.2 1688.5 87 1690.3 83.9C1692.1 80.8 1744.1 71.2 1691.8 68.7C1639.5 66.1 1429.1 63 1376.6 68.7Z" fill="#ff3c00" stroke="#2a0600" stroke-width="1.1" stroke-opacity="0.8" stroke-linejoin="round"/>
<path d="M1418.5 68.7C1384.1 71.2 1418.2 80.3 1420.1 83.9C1421.9 87.5 1425.2 88.8 1429.4 90.4C1433.5 92 1439.7 93.3 1444.9 93.5C1450.1 93.8 1455.8 91.2 1460.4 92C1465.1 92.8 1468.2 97.4 1472.9 98.2C1477.5 99 1483.2 96.4 1488.4 96.6C1493.6 96.9 1498.7 99 1503.9 99.7C1509.1 100.5 1514.3 100.8 1519.5 101.3C1524.6 101.8 1530.8 102.1 1535 102.8C1539.1 103.6 1540.7 106.2 1544.3 106C1547.9 105.7 1552.6 102.3 1556.7 101.3C1560.9 100.3 1565 100.3 1569.1 99.7C1573.3 99.2 1577.4 99.2 1581.6 98.2C1585.7 97.2 1589.9 94.8 1594 93.5C1598.1 92.2 1602.3 91.5 1606.4 90.4C1610.6 89.4 1615.7 88.4 1618.8 87.3C1621.9 86.2 1623.8 87 1625.1 83.9C1626.3 80.8 1661 71.2 1626.6 68.7C1592.2 66.1 1452.9 66.1 1418.5 68.7Z" fill="#dc0000" stroke="#2a0600" stroke-width="1.1" stroke-opacity="0.8" stroke-linejoin="round"/>
<path d="M1489.9 68.7C1473.1 71.2 1488.7 80.3 1491.5 83.9C1494.3 87.5 1501.9 89.1 1507 90.4C1512.2 91.8 1517.9 91.2 1522.6 92C1527.2 92.8 1531.4 94.3 1535 95.1C1538.6 95.9 1540.7 96.9 1544.3 96.6C1547.9 96.4 1552.6 94.3 1556.7 93.5C1560.9 92.8 1565 92.8 1569.1 92C1573.3 91.2 1577.9 90.2 1581.6 88.9C1585.2 87.5 1589.1 87.3 1590.9 83.9C1592.7 80.5 1609.3 71.2 1592.4 68.7C1575.6 66.1 1506.8 66.1 1489.9 68.7Z" fill="#cc0000" stroke="#2a0600" stroke-width="1.1" stroke-opacity="0.8" stroke-linejoin="round"/>
<path d="M1524.1 68.7C1516.1 71.2 1523.9 80.5 1525.7 83.9C1527.5 87.3 1531.9 87.5 1535 88.9C1538.1 90.2 1540.7 92 1544.3 92C1547.9 92 1553.1 89.9 1556.7 88.9C1560.3 87.8 1563.5 86.6 1566 85.8C1568.6 84.9 1571 86.7 1572.3 83.9C1573.5 81.1 1581.8 71.2 1573.8 68.7C1565.8 66.1 1532.1 66.1 1524.1 68.7Z" fill="#a80000" stroke="#2a0600" stroke-width="1.1" stroke-opacity="0.8" stroke-linejoin="round"/>
<path d="M1545.2 394.2C1545.8 392.7 1546.9 390.5 1549.3 389.2C1551.6 387.8 1555.9 386.4 1559.3 386.2C1562.6 385.9 1566.6 386.8 1569.3 387.8C1572 388.8 1574.1 390.3 1575.3 392.2C1576.5 394.1 1577 397.2 1576.3 399.2C1575.6 401.2 1573.8 403.2 1571.3 404.2C1568.8 405.2 1564.6 405.5 1561.3 405.2C1557.9 404.9 1553.8 403.3 1551.3 402.2C1548.8 401 1547.3 399.5 1546.3 398.2C1545.2 396.8 1544.7 395.7 1545.2 394.2Z" fill="#ffb400" stroke="#2a0600" stroke-width="1.1" stroke-opacity="0.8" stroke-linejoin="round"/>
<path d="M1527.2 380.1C1527.6 378.5 1528.9 376.2 1530.2 375.7C1531.6 375.2 1534.2 376.1 1535.2 377.1C1536.2 378.2 1536.7 380.5 1536.2 382.1C1535.7 383.8 1533.6 386.6 1532.2 387.2C1530.9 387.8 1529.1 386.9 1528.2 385.8C1527.4 384.6 1526.9 381.8 1527.2 380.1Z" fill="#ff9c00" stroke="#2a0600" stroke-width="1.1" stroke-opacity="0.8" stroke-linejoin="round"/>
<path d="M1455.1 314C1456.4 311.2 1458.8 308.4 1461.1 307C1463.5 305.7 1467.3 304.9 1469.1 306C1471 307.2 1472.1 311.4 1472.1 314C1472.1 316.7 1471 320.2 1469.1 322.1C1467.3 323.9 1463.3 323.7 1461.1 325.1C1458.9 326.4 1457.4 330.2 1456.1 330.1C1454.8 329.9 1453.3 326.7 1453.1 324.1C1452.9 321.4 1453.8 316.9 1455.1 314Z" fill="#ff9c00" stroke="#2a0600" stroke-width="1.1" stroke-opacity="0.8" stroke-linejoin="round"/>
<path d="M1381 323.1C1383.7 315.9 1391.7 322.9 1397 324.1C1402.4 325.2 1407.7 328.7 1413 330.1C1418.4 331.4 1424.7 330.7 1429.1 332.1C1433.4 333.4 1436.7 335.1 1439.1 338.1C1441.4 341.1 1443.1 346.4 1443.1 350.1C1443.1 353.8 1442.1 357.6 1439.1 360.1C1436.1 362.6 1430.1 364.1 1425.1 365.1C1420 366.1 1413.7 365.8 1409 366.1C1404.4 366.5 1401.7 367 1397 367.1C1392.3 367.3 1383.7 374.5 1381 367.1C1378.3 359.8 1378.3 330.2 1381 323.1Z" fill="#ff9900" stroke="#2a0600" stroke-width="1.1" stroke-opacity="0.8" stroke-linejoin="round"/>
<path d="M1381 328.1C1383.7 322.2 1392.3 328.2 1397 329.1C1401.7 329.9 1405 331.2 1409 333.1C1413 334.9 1418 337.2 1421.1 340.1C1424.1 342.9 1426.7 346.9 1427.1 350.1C1427.4 353.3 1425.7 356.9 1423.1 359.1C1420.4 361.3 1415.4 362.3 1411 363.1C1406.7 364 1402 364 1397 364.1C1392 364.3 1383.7 370.1 1381 364.1C1378.3 358.1 1378.3 333.9 1381 328.1Z" fill="#ff6a0c" stroke="#2a0600" stroke-width="1.1" stroke-opacity="0.8" stroke-linejoin="round"/>
<path d="M1381 330.1C1383.7 325.9 1393.6 329.7 1397 331.1C1400.4 332.4 1400.4 335.2 1401.4 338.1C1402.5 340.9 1403.6 345.4 1403.4 348.1C1403.3 350.8 1401.7 352.8 1400.6 354.1C1399.6 355.4 1400.3 355.8 1397 356.1C1393.7 356.4 1383.7 360.4 1381 356.1C1378.3 351.8 1378.3 334.2 1381 330.1Z" fill="#ff3c00" stroke="#2a0600" stroke-width="1.1" stroke-opacity="0.8" stroke-linejoin="round"/>
<path d="M1473.1 418.2C1470.8 413.5 1475.1 397.2 1476.1 390.2C1477.1 383.1 1477.8 379.3 1479.1 376.1C1480.5 373 1482.5 371.1 1484.2 371.1C1485.8 371.1 1488 373.6 1489.2 376.1C1490.3 378.6 1490.7 382.8 1491.2 386.2C1491.7 389.5 1492.3 390.8 1492.2 396.2C1492 401.5 1493.3 414.5 1490.2 418.2C1487 421.9 1475.5 422.9 1473.1 418.2Z" fill="#ffff99" stroke="#2a0600" stroke-width="1.1" stroke-opacity="0.8" stroke-linejoin="round"/>
<path d="M1477.1 418.2C1475.7 414.2 1478.4 400.5 1479.1 394.2C1479.9 387.8 1480.6 383.1 1481.5 380.1C1482.5 377.1 1483.8 375.8 1484.8 376.1C1485.8 376.5 1486.9 378.8 1487.6 382.1C1488.2 385.5 1488.8 390.2 1488.8 396.2C1488.8 402.2 1489.5 414.5 1487.6 418.2C1485.6 421.9 1478.5 422.2 1477.1 418.2Z" fill="#ffffff" stroke="#2a0600" stroke-width="1.1" stroke-opacity="0.8" stroke-linejoin="round"/>
<path d="M1501.2 356.1C1503 356.4 1509.9 359.4 1513.2 362.1C1516.5 364.8 1519.2 368.5 1521.2 372.1C1523.2 375.8 1525.2 380.5 1525.2 384.2C1525.2 387.8 1523.5 390.8 1521.2 394.2C1518.9 397.5 1513.5 400.2 1511.2 404.2C1508.9 408.2 1509.7 415.9 1507.2 418.2C1504.7 420.5 1497.2 422.2 1496.2 418.2C1495.2 414.2 1499.3 398.8 1501.2 394.2C1503 389.5 1505.9 392.5 1507.2 390.2C1508.5 387.8 1509.2 383.8 1509.2 380.1C1509.2 376.5 1508.4 371.5 1507.2 368.1C1506 364.8 1503.2 362.1 1502.2 360.1C1501.2 358.1 1499.3 355.8 1501.2 356.1Z" fill="#ffff99" stroke="#2a0600" stroke-width="1.1" stroke-opacity="0.8" stroke-linejoin="round"/>
<path d="M1504.2 360.5C1505.1 359.9 1511.4 363.5 1514.2 365.7C1517 368 1519.5 371.1 1521.2 374.1C1522.9 377.2 1524.4 381.1 1524.4 384.2C1524.4 387.2 1523.2 389.5 1521.2 392.6C1519.2 395.6 1514.3 398.3 1512.2 402.6C1510.1 406.9 1511.1 415.6 1508.8 418.2C1506.5 420.8 1499.2 421.9 1498.2 418.2C1497.1 414.5 1500.6 400.7 1502.4 396.2C1504.1 391.7 1507.2 393.8 1508.6 391.2C1510 388.5 1510.8 383.8 1510.8 380.1C1510.8 376.5 1509.9 372.4 1508.8 369.1C1507.7 365.9 1503.3 361.1 1504.2 360.5Z" fill="#ffffff" stroke="#2a0600" stroke-width="0.6" stroke-opacity="0.8" stroke-linejoin="round"/>
<path d="M1532.2 356.1C1533.8 354.8 1539.1 352.3 1541.2 352.1C1543.4 351.9 1545.1 353.8 1545.2 355.1C1545.4 356.4 1543.9 358.6 1542.2 360.1C1540.6 361.6 1537 364.1 1535.2 364.1C1533.5 364.1 1532.1 361.4 1531.6 360.1C1531.1 358.8 1530.6 357.4 1532.2 356.1Z" fill="#ffffff" stroke="#2a0600" stroke-width="1.1" stroke-opacity="0.8" stroke-linejoin="round"/>
<path d="M1508.2 333.1C1509 332.2 1512.4 331.1 1514.2 331.1C1516 331.1 1518.2 331.4 1519.2 333.1C1520.2 334.7 1520.5 339.5 1520.2 341.1C1519.9 342.7 1518 343.3 1517.2 342.5C1516.4 341.6 1516.5 337.1 1515.2 336.1C1513.9 335 1510.4 336.6 1509.2 336.1C1508 335.6 1507.4 333.9 1508.2 333.1Z" fill="#ffffff" stroke="#2a0600" stroke-width="1.1" stroke-opacity="0.8" stroke-linejoin="round"/>
<path d="M1397.1 92C1406.1 93.2 1431.8 97 1451.1 99.1C1470.5 101.2 1491.5 103.2 1513.2 104.7C1535 106.3 1559.3 107.7 1581.6 108.4C1603.8 109.2 1625.1 109.6 1646.8 109.1C1668.5 108.5 1692.9 106.9 1712 105.3C1731.2 103.8 1743.1 102.7 1761.7 99.7C1780.4 96.7 1813.5 89.4 1823.8 87.3" fill="none" stroke="#5a2a10" stroke-width="0.8" stroke-opacity="0.45" stroke-linejoin="round" stroke-linecap="round"/>
<line x1="1647.8" y1="80" x2="1654" y2="408" stroke="#6a2a00" stroke-width="1" stroke-opacity="0.5"/>
<path d="M1445.8 213.1C1451.9 214.1 1468.4 217.5 1482.2 219.3C1496 221.1 1513.2 222.8 1528.8 224C1544.3 225.2 1557.2 226.2 1575.4 226.5C1593.5 226.7 1616.8 226.4 1637.5 225.5C1658.2 224.7 1678.9 223.6 1699.6 221.5C1720.3 219.4 1741 216.6 1761.7 213.1C1782.4 209.6 1803.1 205.6 1823.8 200.7C1844.5 195.8 1865.2 189.8 1886 183.6C1906.7 177.4 1925.4 170.9 1948.1 163.4C1970.7 155.9 2009.7 142.7 2022 138.6 L2022 262.1 L2022 262.1C2009.7 267 1970.7 283 1948.1 291.6C1925.4 300.1 1906.7 307.1 1886 313.3C1865.2 319.5 1844.5 324.5 1823.8 328.9C1803.1 333.3 1782.4 336.6 1761.7 339.7C1741 342.8 1720.3 345.7 1699.6 347.5C1678.9 349.3 1658.2 350.2 1637.5 350.6C1616.8 351 1593.5 350.5 1575.4 350C1557.2 349.5 1544.3 348.7 1528.8 347.5C1513.2 346.3 1496 344.7 1482.2 342.8C1468.4 341 1451.9 337.7 1445.8 336.6Z" fill="none" stroke="#000" stroke-width="3.9" stroke-linejoin="miter"/>
<path d="M1393.9 84.9C1396.1 85.3 1403.2 86.2 1407.1 87C1410.9 87.9 1414.7 88.5 1416.9 89.8C1419.1 91.2 1418.3 94.1 1420.2 95.2C1422.1 96.3 1425.7 96 1428.4 96.4C1431.1 96.7 1434.5 95.8 1436.6 97.4C1438.8 99 1440 102.8 1441.2 105.9C1442.4 109 1443.1 112.2 1443.7 115.8C1444.3 119.3 1444.1 123.2 1444.8 127.3C1445.6 131.4 1446.9 136.3 1448.1 140.4C1449.3 144.5 1451 148.8 1452.2 151.9C1453.4 155 1454.1 157.9 1455.5 158.8C1456.9 159.7 1459.1 159.1 1460.4 157.1C1461.8 155.2 1463 150.6 1463.7 147C1464.4 143.4 1464.8 139.9 1464.5 135.5C1464.3 131.1 1463.3 125.9 1462.4 120.7C1461.5 115.5 1460.1 110.3 1459.1 104.3C1458.1 98.3 1456.8 87.9 1456.3 84.6" fill="none" stroke="#000" stroke-width="6.0" stroke-linejoin="round" stroke-linecap="round"/>
<path d="M1477.6 141.6 L1487.6 142.6" fill="none" stroke="#000" stroke-width="6.4" stroke-linejoin="round" stroke-linecap="round"/>
<path d="M1490.2 146.3 L1493.3 155.2" fill="none" stroke="#000" stroke-width="6.4" stroke-linejoin="round" stroke-linecap="round"/>
<path d="M1496 158.9 L1498.6 166.3" fill="none" stroke="#000" stroke-width="6.4" stroke-linejoin="round" stroke-linecap="round"/>
<path d="M1500.7 169.9 L1503.8 178.3" fill="none" stroke="#000" stroke-width="6.4" stroke-linejoin="round" stroke-linecap="round"/>
<path d="M1505.9 182 L1508 187.3" fill="none" stroke="#000" stroke-width="6.4" stroke-linejoin="round" stroke-linecap="round"/>
<path d="M1511.7 192 L1518.6 197.3" fill="none" stroke="#000" stroke-width="6.4" stroke-linejoin="round" stroke-linecap="round"/>
<path d="M1479.4 159.4C1479.8 161.1 1480.8 166.3 1481.5 169.4C1482.3 172.6 1483.5 176.9 1483.9 178.3" fill="none" stroke="#000" stroke-width="9.5" stroke-linejoin="round" stroke-linecap="round"/>
<path d="M1521.2 209.9 L1523.8 215.7" fill="none" stroke="#000" stroke-width="6" stroke-linejoin="round" stroke-linecap="round"/>
<path d="M1415.8 189.4C1415.4 188 1419.5 184.4 1422.4 182.8C1425.2 181.2 1429.4 180.1 1432.9 179.7C1436.4 179.2 1439.9 179 1443.4 180.2C1446.9 181.3 1450.4 184.3 1453.9 186.5C1457.4 188.6 1460.9 190.9 1464.4 193.1C1467.9 195.2 1471.4 197.2 1474.9 199.6C1478.4 202 1481.9 205.1 1485.5 207.5C1489 209.9 1492.5 212.1 1496 214.1C1499.5 216 1502.9 217.9 1506.5 219.3C1510.1 220.7 1517.4 221.7 1517.5 222.5C1517.6 223.3 1511 224.1 1507 224.1C1503 224 1497.4 223.3 1493.3 222C1489.3 220.6 1486.3 218.3 1482.8 216.2C1479.3 214.1 1475.8 211.8 1472.3 209.3C1468.8 206.9 1465.3 203.9 1461.8 201.5C1458.3 199.1 1454.8 196.6 1451.3 194.9C1447.8 193.1 1444.1 191 1440.8 191C1437.5 190.9 1434 194.6 1431.3 194.6C1428.7 194.6 1427.6 191.8 1425 191C1422.4 190.1 1416.3 190.7 1415.8 189.4Z" fill="none" stroke="#000" stroke-width="6.6" stroke-linejoin="round" stroke-linecap="round"/>
<path d="M1478.9 222C1481.3 222.2 1488.3 223.2 1493.3 223.5C1498.4 223.9 1506.5 224 1509.1 224.1" fill="none" stroke="#000" stroke-width="7" stroke-linejoin="round" stroke-linecap="round"/>
<ellipse cx="1430.8" cy="196.2" rx="4" ry="4" fill="#000"/>
<path d="M1471.5 241.9C1471.8 240.3 1475.3 238.5 1478.1 238.5C1480.9 238.5 1485.8 240.5 1488.1 241.9C1490.4 243.3 1492.2 245.7 1491.8 246.9C1491.3 248.2 1488 249.3 1485.5 249.5C1482.9 249.8 1478.8 249.5 1476.5 248.2C1474.2 247 1471.3 243.5 1471.5 241.9Z" fill="#000" stroke="#000" stroke-width="4" stroke-linejoin="round"/>
<path d="M1519.6 226.2C1521.1 226.1 1526.6 228.2 1530.1 228.8C1533.6 229.4 1537.1 229.4 1540.6 229.8C1544.1 230.3 1548.1 230.5 1551.1 231.4C1554.2 232.3 1556.4 233.4 1559 235.1C1561.6 236.8 1565.4 239.5 1566.9 241.7C1568.4 243.9 1569.1 246.9 1568.2 248.2C1567.3 249.5 1564.1 250 1561.6 249.5C1559.2 249.1 1556.4 245.8 1553.8 245.6C1551.1 245.4 1548.3 246.7 1545.9 248.2C1543.5 249.8 1541.3 254.4 1539.3 254.8C1537.3 255.2 1536 252.4 1534.1 250.9C1532.1 249.3 1529.9 246.3 1527.5 245.6C1525.1 245 1522.2 246.9 1519.6 246.9C1517 246.9 1513.5 246.5 1511.7 245.6C1510 244.7 1508.7 242.8 1509.1 241.7C1509.5 240.6 1511.9 239.3 1514.4 239C1516.8 238.8 1521.6 241.2 1523.5 240.4C1525.5 239.5 1526.6 235.6 1526.2 233.8C1525.7 231.9 1522 230.6 1520.9 229.3C1519.8 228 1518.1 226.3 1519.6 226.2Z" fill="none" stroke="#000" stroke-width="7.6" stroke-linejoin="round"/>
<path d="M1579.5 247.2C1580.8 246.2 1585.3 245.3 1587.9 245.3C1590.5 245.3 1594.2 246.2 1595.3 247.2C1596.4 248.2 1595.9 250.4 1594.5 251.4C1593 252.4 1589 253 1586.6 253C1584.2 253 1581.2 252.4 1580 251.4C1578.9 250.4 1578.2 248.2 1579.5 247.2Z" fill="#000" stroke="#000" stroke-width="3.5" stroke-linejoin="round"/>
<ellipse cx="1636.5" cy="272.1" rx="4.4" ry="4.4" fill="#000"/>
<ellipse cx="1642" cy="287.9" rx="4.2" ry="4.2" fill="#000"/>
<path d="M1397 257.9C1398 258.3 1400.7 258.6 1403 260C1405.4 261.3 1409.2 263 1411 266C1412.9 269 1413.7 274 1414 278C1414.4 282 1413.6 286 1413 290C1412.5 294 1411.5 297.7 1410.6 302C1409.8 306.4 1408 311.7 1408 316C1408.1 320.4 1409.5 324.4 1411 328.1C1412.5 331.7 1414.5 335 1417 338.1C1419.5 341.1 1423.6 344.5 1426.1 346.5C1428.6 348.5 1429.9 349.8 1432.1 350.1C1434.2 350.4 1436.6 349.4 1439.1 348.1C1441.6 346.8 1444.7 343.4 1447.1 342.5C1449.5 341.5 1451.5 341.2 1453.5 342.5C1455.5 343.8 1457.2 347.5 1459.1 350.1C1461 352.7 1463.3 354.1 1464.7 358.1C1466.2 362.1 1467.2 368.8 1467.7 374.1C1468.3 379.5 1468.1 384.5 1468.1 390.2C1468.1 395.8 1467.8 405.2 1467.7 408.2" fill="none" stroke="#000" stroke-width="6.3" stroke-linejoin="round" stroke-linecap="round"/>
<path d="M1395 333.1C1395.7 333.9 1397.3 335.7 1399 338.1C1400.7 340.4 1402.7 344.7 1405 347.1C1407.4 349.5 1409.7 350.9 1413 352.5C1416.4 354.1 1422 354.5 1425.1 356.5C1428.1 358.5 1429.5 362.8 1431.5 364.5C1433.5 366.2 1435.2 367.5 1437.1 366.5C1438.9 365.5 1440.7 361.2 1442.7 358.5C1444.7 355.8 1448 351.5 1449.1 350.1" fill="none" stroke="#000" stroke-width="6.3" stroke-linejoin="round" stroke-linecap="round"/>
<path d="M1467.7 349.1C1469.1 351.9 1473.6 365.6 1476.1 365.7C1478.7 365.9 1480.6 355.4 1483.2 350.1C1485.7 344.8 1488.2 337.3 1491.2 333.7C1494.2 330.1 1497.5 329.5 1501.2 328.5C1504.9 327.4 1508.9 328.7 1513.2 327.3C1517.5 325.9 1523.5 321.8 1527.2 320C1530.9 318.3 1533.4 316.5 1535.2 317C1537.1 317.5 1538.7 320.9 1538.4 323.1C1538.2 325.2 1534.7 326.9 1533.6 330.1C1532.6 333.2 1532.2 338 1532.2 342.1C1532.2 346.2 1532.6 353.2 1533.6 354.5C1534.6 355.8 1536.6 353.2 1538.2 350.1C1539.8 347 1541.4 341.1 1543.2 336.1C1545.1 331.1 1547.3 321.7 1549.3 320C1551.3 318.4 1552.6 323.7 1555.3 326.5C1557.9 329.2 1561.3 334.3 1565.3 336.5C1569.3 338.6 1574.6 338.5 1579.3 339.3C1584 340.1 1588.3 340.6 1593.3 341.3C1598.3 341.9 1605 343.8 1609.4 343.3C1613.7 342.8 1614.4 339.5 1619.4 338.5C1624.4 337.5 1635 336.3 1639.4 337.3C1643.8 338.3 1644.7 340.6 1645.8 344.5C1646.9 348.4 1645.2 357.2 1645.8 360.5C1646.4 363.9 1648.8 363.9 1649.4 364.5" fill="none" stroke="#000" stroke-width="6.3" stroke-linejoin="round" stroke-linecap="round"/>
<path d="M1649.3 360.5C1650.9 362 1656 366.2 1659.2 369.2C1662.4 372.2 1664.9 375.7 1668.5 378.6C1672.2 381.4 1676.3 384.3 1681 386.3C1685.6 388.4 1690.8 390.2 1696.5 391C1702.2 391.8 1709.4 390.2 1715.1 391C1720.8 391.8 1725.7 393.7 1730.7 395.6C1735.6 397.6 1741 400.5 1744.6 402.8C1748.3 405.1 1751.1 408.5 1752.4 409.6" fill="none" stroke="#000" stroke-width="6.3" stroke-linejoin="round" stroke-linecap="round"/>
<text x="1411.8" y="143.9" font-size="50" fill="#000" font-weight="bold" stroke="#000" stroke-width="1.3" stroke-linejoin="round" textLength="28.5" lengthAdjust="spacingAndGlyphs">C</text>
<text x="1443.5" y="143.9" font-size="50" fill="#000" font-weight="bold" stroke="#000" stroke-width="1.3" stroke-linejoin="round" textLength="12.5" lengthAdjust="spacingAndGlyphs">)</text>
</g>
<path fill="#25282b" fill-rule="evenodd" d="M1389 78H2031V412H1389ZM1397 84H2023V405H1397Z"/>
<rect x="130.3" y="430.5" width="60.7" height="26.80000000000001" fill="#ffffff"/>
<rect x="190.5" y="430.5" width="60.7" height="26.80000000000001" fill="#ffff99"/>
<linearGradient id="cbg2" x1="0" x2="1" y1="0" y2="0"><stop offset="0.1" stop-color="#ffe800"/><stop offset="0.9" stop-color="#fff000"/></linearGradient>
<rect x="250.7" y="430.5" width="120.9" height="26.80000000000001" fill="url(#cbg2)"/>
<linearGradient id="cbg4" x1="0" x2="1" y1="0" y2="0"><stop offset="0.1" stop-color="#ffb400"/><stop offset="0.9" stop-color="#ffbe00"/></linearGradient>
<rect x="371.2" y="430.5" width="120.9" height="26.80000000000001" fill="url(#cbg4)"/>
<linearGradient id="cbg6" x1="0" x2="1" y1="0" y2="0"><stop offset="0.1" stop-color="#ff9c00"/><stop offset="0.9" stop-color="#ff9900"/></linearGradient>
<rect x="491.6" y="430.5" width="120.9" height="26.80000000000001" fill="url(#cbg6)"/>
<linearGradient id="cbg8" x1="0" x2="1" y1="0" y2="0"><stop offset="0.1" stop-color="#ff6a0c"/><stop offset="0.9" stop-color="#ff6400"/></linearGradient>
<rect x="612.0" y="430.5" width="120.9" height="26.80000000000001" fill="url(#cbg8)"/>
<linearGradient id="cbg10" x1="0" x2="1" y1="0" y2="0"><stop offset="0.1" stop-color="#ff3c00"/><stop offset="0.9" stop-color="#ff3000"/></linearGradient>
<rect x="732.4" y="430.5" width="120.9" height="26.80000000000001" fill="url(#cbg10)"/>
<linearGradient id="cbg12" x1="0" x2="1" y1="0" y2="0"><stop offset="0.1" stop-color="#dc0000"/><stop offset="0.9" stop-color="#cc0000"/></linearGradient>
<rect x="852.9" y="430.5" width="120.9" height="26.80000000000001" fill="url(#cbg12)"/>
<linearGradient id="cbg14" x1="0" x2="1" y1="0" y2="0"><stop offset="0.1" stop-color="#a80000"/><stop offset="0.9" stop-color="#990000"/></linearGradient>
<rect x="973.3" y="430.5" width="120.9" height="26.80000000000001" fill="url(#cbg14)"/>
<linearGradient id="cbg16" x1="0" x2="1" y1="0" y2="0"><stop offset="0.1" stop-color="#7a0000"/><stop offset="0.9" stop-color="#700000"/></linearGradient>
<rect x="1093.7" y="430.5" width="120.9" height="26.80000000000001" fill="url(#cbg16)"/>
<linearGradient id="cbg18" x1="0" x2="1" y1="0" y2="0"><stop offset="0.1" stop-color="#400040"/><stop offset="0.9" stop-color="#3c003c"/></linearGradient>
<rect x="1214.1" y="430.5" width="120.9" height="26.80000000000001" fill="url(#cbg18)"/>
<linearGradient id="cbg20" x1="0" x2="1" y1="0" y2="0"><stop offset="0.1" stop-color="#660066"/><stop offset="0.9" stop-color="#6a006a"/></linearGradient>
<rect x="1334.6" y="430.5" width="120.9" height="26.80000000000001" fill="url(#cbg20)"/>
<linearGradient id="cbg22" x1="0" x2="1" y1="0" y2="0"><stop offset="0.1" stop-color="#b8007a"/><stop offset="0.9" stop-color="#c0007c"/></linearGradient>
<rect x="1455.0" y="430.5" width="120.9" height="26.80000000000001" fill="url(#cbg22)"/>
<linearGradient id="cbg24" x1="0" x2="1" y1="0" y2="0"><stop offset="0.1" stop-color="#e6007a"/><stop offset="0.9" stop-color="#ee007a"/></linearGradient>
<rect x="1575.4" y="430.5" width="120.9" height="26.80000000000001" fill="url(#cbg24)"/>
<linearGradient id="cbg26" x1="0" x2="1" y1="0" y2="0"><stop offset="0.1" stop-color="#ff4da6"/><stop offset="0.9" stop-color="#ff52a8"/></linearGradient>
<rect x="1695.8" y="430.5" width="120.9" height="26.80000000000001" fill="url(#cbg26)"/>
<linearGradient id="cbg28" x1="0" x2="1" y1="0" y2="0"><stop offset="0.1" stop-color="#ff8099"/><stop offset="0.9" stop-color="#ff869c"/></linearGradient>
<rect x="1816.3" y="430.5" width="120.9" height="26.80000000000001" fill="url(#cbg28)"/>
<rect x="247.7" y="438.6" width="6" height="19.7" fill="#25282b"/>
<rect x="368.2" y="438.6" width="6" height="19.7" fill="#25282b"/>
<rect x="488.6" y="438.6" width="6" height="19.7" fill="#25282b"/>
<rect x="609.0" y="438.6" width="6" height="19.7" fill="#25282b"/>
<rect x="729.4" y="438.6" width="6" height="19.7" fill="#25282b"/>
<rect x="849.9" y="438.6" width="6" height="19.7" fill="#25282b"/>
<rect x="970.3" y="438.6" width="6" height="19.7" fill="#25282b"/>
<rect x="1090.7" y="438.6" width="6" height="19.7" fill="#25282b"/>
<rect x="1211.1" y="438.6" width="6" height="19.7" fill="#25282b"/>
<rect x="1331.6" y="438.6" width="6" height="19.7" fill="#25282b"/>
<rect x="1452.0" y="438.6" width="6" height="19.7" fill="#25282b"/>
<rect x="1572.4" y="438.6" width="6" height="19.7" fill="#25282b"/>
<rect x="1692.8" y="438.6" width="6" height="19.7" fill="#25282b"/>
<rect x="1813.3" y="438.6" width="6" height="19.7" fill="#25282b"/>
<path fill="#25282b" fill-rule="evenodd" d="M127.5 424.2H1938.7V463.2H127.5ZM133.5 430.5H1932.7V457.3H133.5Z"/>
<text x="114.3" y="502.3" font-size="33.8" font-weight="bold" fill="#262626" stroke="#262626" stroke-width="0.5" textLength="20.5" lengthAdjust="spacingAndGlyphs">0</text>
<text x="234.7" y="502.3" font-size="33.8" font-weight="bold" fill="#262626" stroke="#262626" stroke-width="0.5" textLength="20.5" lengthAdjust="spacingAndGlyphs">2</text>
<text x="355.1" y="502.3" font-size="33.8" font-weight="bold" fill="#262626" stroke="#262626" stroke-width="0.5" textLength="20.5" lengthAdjust="spacingAndGlyphs">4</text>
<text x="475.5" y="502.3" font-size="33.8" font-weight="bold" fill="#262626" stroke="#262626" stroke-width="0.5" textLength="20.5" lengthAdjust="spacingAndGlyphs">6</text>
<text x="596.0" y="502.3" font-size="33.8" font-weight="bold" fill="#262626" stroke="#262626" stroke-width="0.5" textLength="20.5" lengthAdjust="spacingAndGlyphs">8</text>
<text x="711.4" y="502.3" font-size="33.8" font-weight="bold" fill="#262626" stroke="#262626" stroke-width="0.5" textLength="42.0" lengthAdjust="spacingAndGlyphs">10</text>
<text x="831.9" y="502.3" font-size="33.8" font-weight="bold" fill="#262626" stroke="#262626" stroke-width="0.5" textLength="42.0" lengthAdjust="spacingAndGlyphs">12</text>
<text x="952.3" y="502.3" font-size="33.8" font-weight="bold" fill="#262626" stroke="#262626" stroke-width="0.5" textLength="42.0" lengthAdjust="spacingAndGlyphs">14</text>
<text x="1072.7" y="502.3" font-size="33.8" font-weight="bold" fill="#262626" stroke="#262626" stroke-width="0.5" textLength="42.0" lengthAdjust="spacingAndGlyphs">16</text>
<text x="1193.1" y="502.3" font-size="33.8" font-weight="bold" fill="#262626" stroke="#262626" stroke-width="0.5" textLength="42.0" lengthAdjust="spacingAndGlyphs">18</text>
<text x="1313.6" y="502.3" font-size="33.8" font-weight="bold" fill="#262626" stroke="#262626" stroke-width="0.5" textLength="42.0" lengthAdjust="spacingAndGlyphs">20</text>
<text x="1434.0" y="502.3" font-size="33.8" font-weight="bold" fill="#262626" stroke="#262626" stroke-width="0.5" textLength="42.0" lengthAdjust="spacingAndGlyphs">22</text>
<text x="1554.4" y="502.3" font-size="33.8" font-weight="bold" fill="#262626" stroke="#262626" stroke-width="0.5" textLength="42.0" lengthAdjust="spacingAndGlyphs">24</text>
<text x="1674.8" y="502.3" font-size="33.8" font-weight="bold" fill="#262626" stroke="#262626" stroke-width="0.5" textLength="42.0" lengthAdjust="spacingAndGlyphs">26</text>
<text x="1795.3" y="502.3" font-size="33.8" font-weight="bold" fill="#262626" stroke="#262626" stroke-width="0.5" textLength="42.0" lengthAdjust="spacingAndGlyphs">28</text>
<text x="1915.7" y="502.3" font-size="33.8" font-weight="bold" fill="#262626" stroke="#262626" stroke-width="0.5" textLength="42.0" lengthAdjust="spacingAndGlyphs">30</text>
<text x="967.3" y="572.9" font-size="31" font-weight="bold" fill="#1a1a1a" stroke="#1a1a1a" stroke-width="0.4" textLength="12.5" lengthAdjust="spacingAndGlyphs">[</text><text x="981.8" y="574.8" font-size="37" font-weight="bold" fill="#1a1a1a" stroke="#1a1a1a" stroke-width="0.4" textLength="33.5" lengthAdjust="spacingAndGlyphs">m</text><text x="1017.3" y="557.6" font-size="25.7" font-weight="bold" fill="#1a1a1a" stroke="#1a1a1a" stroke-width="0.4" textLength="16.3" lengthAdjust="spacingAndGlyphs">2</text><text x="1034.3" y="576.6" font-size="36" font-weight="bold" fill="#1a1a1a" stroke="#1a1a1a" stroke-width="0.4" textLength="11.6" lengthAdjust="spacingAndGlyphs">/</text><text x="1046.3" y="574.8" font-size="37" font-weight="bold" fill="#1a1a1a" stroke="#1a1a1a" stroke-width="0.4" textLength="19.6" lengthAdjust="spacingAndGlyphs">s</text><text x="1066.8" y="557.6" font-size="25.7" font-weight="bold" fill="#1a1a1a" stroke="#1a1a1a" stroke-width="0.4" textLength="16.3" lengthAdjust="spacingAndGlyphs">2</text><text x="1085.2" y="572.9" font-size="31" font-weight="bold" fill="#1a1a1a" stroke="#1a1a1a" stroke-width="0.4" textLength="12.5" lengthAdjust="spacingAndGlyphs">]</text>
</svg>
</body></html>
